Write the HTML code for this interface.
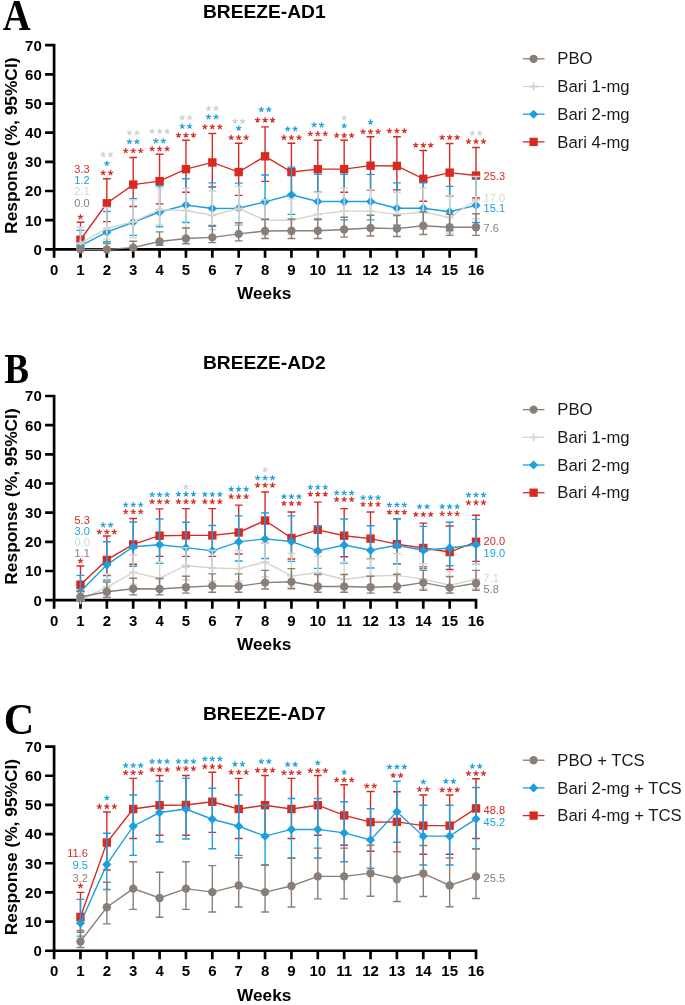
<!DOCTYPE html>
<html><head><meta charset="utf-8"><style>
html,body{margin:0;padding:0;background:#fff;width:685px;height:1005px;overflow:hidden}
svg{display:block;will-change:transform}
.tk{font-family:"Liberation Sans",sans-serif;font-weight:bold;font-size:15px;fill:#000}
.lg{font-family:"Liberation Sans",sans-serif;font-size:16.7px;fill:#1a1a1a}
.nl{font-family:"Liberation Sans",sans-serif;font-size:11px}
text{font-family:"Liberation Sans",sans-serif}
.let{font-family:"Liberation Serif",serif;font-weight:bold;font-size:43.5px;fill:#000}
</style></head><body>
<svg width="685" height="1005" viewBox="0 0 685 1005">
<rect width="685" height="1005" fill="#fff"/>
<text transform="translate(2.8,30.3) scale(0.89,1)" class="let" style="font-size:43.5px">A</text>
<text x="264.3" y="18.3" text-anchor="middle" font-family="Liberation Sans" font-weight="bold" font-size="19.2">BREEZE-AD1</text>
<path d="M54.1 43.85V257.85M45.1 249.35H477.37M45.1 249.35H54.1M45.1 220.19H54.1M45.1 191.02H54.1M45.1 161.86H54.1M45.1 132.69H54.1M45.1 103.53H54.1M45.1 74.37H54.1M45.1 45.2H54.1M80.47 249.35V257.85M106.84 249.35V257.85M133.21 249.35V257.85M159.58 249.35V257.85M185.95 249.35V257.85M212.32 249.35V257.85M238.69 249.35V257.85M265.06 249.35V257.85M291.43 249.35V257.85M317.8 249.35V257.85M344.17 249.35V257.85M370.54 249.35V257.85M396.91 249.35V257.85M423.28 249.35V257.85M449.65 249.35V257.85M476.02 249.35V257.85" stroke="#000" stroke-width="2.7" fill="none"/>
<text x="41.8" y="254.75" text-anchor="end" class="tk">0</text>
<text x="41.8" y="225.59" text-anchor="end" class="tk">10</text>
<text x="41.8" y="196.42" text-anchor="end" class="tk">20</text>
<text x="41.8" y="167.26" text-anchor="end" class="tk">30</text>
<text x="41.8" y="138.09" text-anchor="end" class="tk">40</text>
<text x="41.8" y="108.93" text-anchor="end" class="tk">50</text>
<text x="41.8" y="79.77" text-anchor="end" class="tk">60</text>
<text x="41.8" y="50.6" text-anchor="end" class="tk">70</text>
<text x="54.1" y="274.95" text-anchor="middle" class="tk">0</text>
<text x="80.47" y="274.95" text-anchor="middle" class="tk">1</text>
<text x="106.84" y="274.95" text-anchor="middle" class="tk">2</text>
<text x="133.21" y="274.95" text-anchor="middle" class="tk">3</text>
<text x="159.58" y="274.95" text-anchor="middle" class="tk">4</text>
<text x="185.95" y="274.95" text-anchor="middle" class="tk">5</text>
<text x="212.32" y="274.95" text-anchor="middle" class="tk">6</text>
<text x="238.69" y="274.95" text-anchor="middle" class="tk">7</text>
<text x="265.06" y="274.95" text-anchor="middle" class="tk">8</text>
<text x="291.43" y="274.95" text-anchor="middle" class="tk">9</text>
<text x="317.8" y="274.95" text-anchor="middle" class="tk">10</text>
<text x="344.17" y="274.95" text-anchor="middle" class="tk">11</text>
<text x="370.54" y="274.95" text-anchor="middle" class="tk">12</text>
<text x="396.91" y="274.95" text-anchor="middle" class="tk">13</text>
<text x="423.28" y="274.95" text-anchor="middle" class="tk">14</text>
<text x="449.65" y="274.95" text-anchor="middle" class="tk">15</text>
<text x="476.02" y="274.95" text-anchor="middle" class="tk">16</text>
<text x="264.2" y="299.25" text-anchor="middle" font-family="Liberation Sans" font-weight="bold" font-size="17.2">Weeks</text>
<text transform="translate(17.2,145.7) rotate(-90)" text-anchor="middle" font-family="Liberation Sans" font-weight="bold" font-size="17.35">Response (%, 95%CI)</text>
<polyline points="80.47,239.73 106.84,203.27 133.21,184.61 159.58,181.11 185.95,169.15 212.32,162.44 238.69,172.07 265.06,156.32 291.43,172.07 317.8,169.15 344.17,169.15 370.54,165.65 396.91,165.94 423.28,178.77 449.65,172.65 476.02,175.57" fill="none" stroke="#d62a22" stroke-width="1.4"/>
<path d="M80.47 222.23V248.48M76.57 222.23H84.37M76.57 248.48H84.37M106.84 178.77V221.64M102.94 178.77H110.74M102.94 221.64H110.74M133.21 157.48V206.48M129.31 157.48H137.11M129.31 206.48H137.11M159.58 154.28V203.85M155.68 154.28H163.48M155.68 203.85H163.48M185.95 140.28V192.19M182.05 140.28H189.85M182.05 192.19H189.85M212.32 133.57V186.94M208.42 133.57H216.22M208.42 186.94H216.22M238.69 143.19V195.4M234.79 143.19H242.59M234.79 195.4H242.59M265.06 126.86V181.4M261.16 126.86H268.96M261.16 181.4H268.96M291.43 143.19V195.4M287.53 143.19H295.33M287.53 195.4H295.33M317.8 140.28V192.19M313.9 140.28H321.7M313.9 192.19H321.7M344.17 140.28V192.19M340.27 140.28H348.07M340.27 192.19H348.07M370.54 136.78V190.15M366.64 136.78H374.44M366.64 190.15H374.44M396.91 136.78V189.86M393.01 136.78H400.81M393.01 189.86H400.81M423.28 150.48V201.23M419.38 150.48H427.18M419.38 201.23H427.18M449.65 143.48V195.69M445.75 143.48H453.55M445.75 195.69H453.55M476.02 147.57V198.02M472.12 147.57H479.92M472.12 198.02H479.92" stroke="#d62a22" stroke-width="1.4" fill="none"/>
<rect x="76.27" y="235.53" width="8.4" height="8.4" fill="#d62a22"/>
<rect x="102.64" y="199.07" width="8.4" height="8.4" fill="#d62a22"/>
<rect x="129.01" y="180.41" width="8.4" height="8.4" fill="#d62a22"/>
<rect x="155.38" y="176.91" width="8.4" height="8.4" fill="#d62a22"/>
<rect x="181.75" y="164.95" width="8.4" height="8.4" fill="#d62a22"/>
<rect x="208.12" y="158.24" width="8.4" height="8.4" fill="#d62a22"/>
<rect x="234.49" y="167.87" width="8.4" height="8.4" fill="#d62a22"/>
<rect x="260.86" y="152.12" width="8.4" height="8.4" fill="#d62a22"/>
<rect x="287.23" y="167.87" width="8.4" height="8.4" fill="#d62a22"/>
<rect x="313.6" y="164.95" width="8.4" height="8.4" fill="#d62a22"/>
<rect x="339.97" y="164.95" width="8.4" height="8.4" fill="#d62a22"/>
<rect x="366.34" y="161.45" width="8.4" height="8.4" fill="#d62a22"/>
<rect x="392.71" y="161.74" width="8.4" height="8.4" fill="#d62a22"/>
<rect x="419.08" y="174.57" width="8.4" height="8.4" fill="#d62a22"/>
<rect x="445.45" y="168.45" width="8.4" height="8.4" fill="#d62a22"/>
<rect x="471.82" y="171.37" width="8.4" height="8.4" fill="#d62a22"/>
<polyline points="80.47,245.85 106.84,232.14 133.21,222.23 159.58,212.02 185.95,205.02 212.32,208.52 238.69,208.23 265.06,201.81 291.43,194.81 317.8,201.52 344.17,201.52 370.54,201.52 396.91,208.23 423.28,208.23 449.65,211.73 476.02,205.31" fill="none" stroke="#1c9fdf" stroke-width="1.4"/>
<path d="M80.47 230.39V249.35M76.57 230.39H84.37M76.57 249.35H84.37M106.84 211.44V241.77M102.94 211.44H110.74M102.94 241.77H110.74M133.21 198.6V235.35M129.31 198.6H137.11M129.31 235.35H137.11M159.58 185.77V226.89M155.68 185.77H163.48M155.68 226.89H163.48M185.95 178.77V222.52M182.05 178.77H189.85M182.05 222.52H189.85M212.32 182.86V225.44M208.42 182.86H216.22M208.42 225.44H216.22M238.69 183.15V224.85M234.79 183.15H242.59M234.79 224.85H242.59M265.06 174.98V219.31M261.16 174.98H268.96M261.16 219.31H268.96M291.43 167.11V214.35M287.53 167.11H295.33M287.53 214.35H295.33M317.8 174.4V219.89M313.9 174.4H321.7M313.9 219.89H321.7M344.17 174.4V219.89M340.27 174.4H348.07M340.27 219.89H348.07M370.54 174.4V219.89M366.64 174.4H374.44M366.64 219.89H374.44M396.91 182.86V225.14M393.01 182.86H400.81M393.01 225.14H400.81M423.28 182.86V225.14M419.38 182.86H427.18M419.38 225.14H427.18M449.65 186.36V230.69M445.75 186.36H453.55M445.75 230.69H453.55M476.02 179.36V222.52M472.12 179.36H479.92M472.12 222.52H479.92" stroke="#1c9fdf" stroke-width="1.4" fill="none"/>
<path d="M80.47 241.23L85.09 245.85L80.47 250.47L75.85 245.85Z" fill="#1c9fdf"/>
<path d="M106.84 227.52L111.46 232.14L106.84 236.76L102.22 232.14Z" fill="#1c9fdf"/>
<path d="M133.21 217.61L137.83 222.23L133.21 226.85L128.59 222.23Z" fill="#1c9fdf"/>
<path d="M159.58 207.4L164.2 212.02L159.58 216.64L154.96 212.02Z" fill="#1c9fdf"/>
<path d="M185.95 200.4L190.57 205.02L185.95 209.64L181.33 205.02Z" fill="#1c9fdf"/>
<path d="M212.32 203.9L216.94 208.52L212.32 213.14L207.7 208.52Z" fill="#1c9fdf"/>
<path d="M238.69 203.61L243.31 208.23L238.69 212.85L234.07 208.23Z" fill="#1c9fdf"/>
<path d="M265.06 197.19L269.68 201.81L265.06 206.43L260.44 201.81Z" fill="#1c9fdf"/>
<path d="M291.43 190.19L296.05 194.81L291.43 199.43L286.81 194.81Z" fill="#1c9fdf"/>
<path d="M317.8 196.9L322.42 201.52L317.8 206.14L313.18 201.52Z" fill="#1c9fdf"/>
<path d="M344.17 196.9L348.79 201.52L344.17 206.14L339.55 201.52Z" fill="#1c9fdf"/>
<path d="M370.54 196.9L375.16 201.52L370.54 206.14L365.92 201.52Z" fill="#1c9fdf"/>
<path d="M396.91 203.61L401.53 208.23L396.91 212.85L392.29 208.23Z" fill="#1c9fdf"/>
<path d="M423.28 203.61L427.9 208.23L423.28 212.85L418.66 208.23Z" fill="#1c9fdf"/>
<path d="M449.65 207.11L454.27 211.73L449.65 216.35L445.03 211.73Z" fill="#1c9fdf"/>
<path d="M476.02 200.69L480.64 205.31L476.02 209.93L471.4 205.31Z" fill="#1c9fdf"/>
<polyline points="80.47,243.23 106.84,228.35 133.21,221.94 159.58,209.69 185.95,210.56 212.32,215.23 238.69,208.52 265.06,220.19 291.43,220.19 317.8,214.35 344.17,211.15 370.54,211.15 396.91,214.35 423.28,212.02 449.65,217.56 476.02,199.77" fill="none" stroke="#d5d4cd" stroke-width="1.4"/>
<path d="M80.47 226.89V248.48M76.57 226.89H84.37M76.57 248.48H84.37M106.84 207.35V238.85M102.94 207.35H110.74M102.94 238.85H110.74M133.21 199.77V237.68M129.31 199.77H137.11M129.31 237.68H137.11M159.58 188.11V224.85M155.68 188.11H163.48M155.68 224.85H163.48M185.95 188.11V227.48M182.05 188.11H189.85M182.05 227.48H189.85M212.32 191.02V229.81M208.42 191.02H216.22M208.42 229.81H216.22M238.69 186.65V224.27M234.79 186.65H242.59M234.79 224.27H242.59M265.06 199.77V234.77M261.16 199.77H268.96M261.16 234.77H268.96M291.43 198.9V234.77M287.53 198.9H295.33M287.53 234.77H295.33M317.8 192.48V230.39M313.9 192.48H321.7M313.9 230.39H321.7M344.17 188.11V227.48M340.27 188.11H348.07M340.27 227.48H348.07M370.54 189.56V227.48M366.64 189.56H374.44M366.64 227.48H374.44M396.91 192.48V230.39M393.01 192.48H400.81M393.01 230.39H400.81M423.28 188.11V228.94M419.38 188.11H427.18M419.38 228.94H427.18M449.65 195.4V233.31M445.75 195.4H453.55M445.75 233.31H453.55M476.02 176.44V218.73M472.12 176.44H479.92M472.12 218.73H479.92" stroke="#d5d4cd" stroke-width="1.4" fill="none"/>
<path d="M76.27 243.23H84.67M80.47 239.03V247.43" stroke="#d5d4cd" stroke-width="1.8" fill="none"/>
<path d="M102.64 228.35H111.04M106.84 224.15V232.55" stroke="#d5d4cd" stroke-width="1.8" fill="none"/>
<path d="M129.01 221.94H137.41M133.21 217.74V226.14" stroke="#d5d4cd" stroke-width="1.8" fill="none"/>
<path d="M155.38 209.69H163.78M159.58 205.49V213.89" stroke="#d5d4cd" stroke-width="1.8" fill="none"/>
<path d="M181.75 210.56H190.15M185.95 206.36V214.76" stroke="#d5d4cd" stroke-width="1.8" fill="none"/>
<path d="M208.12 215.23H216.52M212.32 211.03V219.43" stroke="#d5d4cd" stroke-width="1.8" fill="none"/>
<path d="M234.49 208.52H242.89M238.69 204.32V212.72" stroke="#d5d4cd" stroke-width="1.8" fill="none"/>
<path d="M260.86 220.19H269.26M265.06 215.99V224.39" stroke="#d5d4cd" stroke-width="1.8" fill="none"/>
<path d="M287.23 220.19H295.63M291.43 215.99V224.39" stroke="#d5d4cd" stroke-width="1.8" fill="none"/>
<path d="M313.6 214.35H322M317.8 210.15V218.55" stroke="#d5d4cd" stroke-width="1.8" fill="none"/>
<path d="M339.97 211.15H348.37M344.17 206.95V215.35" stroke="#d5d4cd" stroke-width="1.8" fill="none"/>
<path d="M366.34 211.15H374.74M370.54 206.95V215.35" stroke="#d5d4cd" stroke-width="1.8" fill="none"/>
<path d="M392.71 214.35H401.11M396.91 210.15V218.55" stroke="#d5d4cd" stroke-width="1.8" fill="none"/>
<path d="M419.08 212.02H427.48M423.28 207.82V216.22" stroke="#d5d4cd" stroke-width="1.8" fill="none"/>
<path d="M445.45 217.56H453.85M449.65 213.36V221.76" stroke="#d5d4cd" stroke-width="1.8" fill="none"/>
<path d="M471.82 199.77H480.22M476.02 195.57V203.97" stroke="#d5d4cd" stroke-width="1.8" fill="none"/>
<polyline points="80.47,249.35 106.84,249.35 133.21,247.6 159.58,241.48 185.95,238.56 212.32,237.39 238.69,233.89 265.06,230.98 291.43,230.69 317.8,230.69 344.17,229.52 370.54,228.06 396.91,228.64 423.28,225.73 449.65,227.19 476.02,227.19" fill="none" stroke="#8a7e78" stroke-width="1.4"/>
<path d="M80.47 247.6V249.35M76.57 247.6H84.37M76.57 249.35H84.37M106.84 243.52V249.35M102.94 243.52H110.74M102.94 249.35H110.74M133.21 241.18V249.35M129.31 241.18H137.11M129.31 249.35H137.11M159.58 231.85V245.27M155.68 231.85H163.48M155.68 245.27H163.48M185.95 228.06V243.81M182.05 228.06H189.85M182.05 243.81H189.85M212.32 226.31V242.64M208.42 226.31H216.22M208.42 242.64H216.22M238.69 222.81V240.89M234.79 222.81H242.59M234.79 240.89H242.59M265.06 219.31V238.56M261.16 219.31H268.96M261.16 238.56H268.96M291.43 219.02V238.56M287.53 219.02H295.33M287.53 238.56H295.33M317.8 219.02V238.56M313.9 219.02H321.7M313.9 238.56H321.7M344.17 217.27V237.1M340.27 217.27H348.07M340.27 237.1H348.07M370.54 215.23V235.93M366.64 215.23H374.44M366.64 235.93H374.44M396.91 215.52V236.52M393.01 215.52H400.81M393.01 236.52H400.81M423.28 212.02V234.48M419.38 212.02H427.18M419.38 234.48H427.18M449.65 214.35V235.35M445.75 214.35H453.55M445.75 235.35H453.55M476.02 213.77V235.35M472.12 213.77H479.92M472.12 235.35H479.92" stroke="#8a7e78" stroke-width="1.4" fill="none"/>
<circle cx="80.47" cy="249.35" r="4.2" fill="#8a7e78"/>
<circle cx="106.84" cy="249.35" r="4.2" fill="#8a7e78"/>
<circle cx="133.21" cy="247.6" r="4.2" fill="#8a7e78"/>
<circle cx="159.58" cy="241.48" r="4.2" fill="#8a7e78"/>
<circle cx="185.95" cy="238.56" r="4.2" fill="#8a7e78"/>
<circle cx="212.32" cy="237.39" r="4.2" fill="#8a7e78"/>
<circle cx="238.69" cy="233.89" r="4.2" fill="#8a7e78"/>
<circle cx="265.06" cy="230.98" r="4.2" fill="#8a7e78"/>
<circle cx="291.43" cy="230.69" r="4.2" fill="#8a7e78"/>
<circle cx="317.8" cy="230.69" r="4.2" fill="#8a7e78"/>
<circle cx="344.17" cy="229.52" r="4.2" fill="#8a7e78"/>
<circle cx="370.54" cy="228.06" r="4.2" fill="#8a7e78"/>
<circle cx="396.91" cy="228.64" r="4.2" fill="#8a7e78"/>
<circle cx="423.28" cy="225.73" r="4.2" fill="#8a7e78"/>
<circle cx="449.65" cy="227.19" r="4.2" fill="#8a7e78"/>
<circle cx="476.02" cy="227.19" r="4.2" fill="#8a7e78"/>
<path d="M80.47 217L80.47 214.25M80.47 217L83.09 216.15M80.47 217L82.09 219.22M80.47 217L78.85 219.22M80.47 217L77.85 216.15" stroke="#d62a22" stroke-width="1.2" stroke-linecap="butt" fill="none"/>
<path d="M103.09 172.9L103.09 170.15M103.09 172.9L105.71 172.05M103.09 172.9L104.71 175.12M103.09 172.9L101.47 175.12M103.09 172.9L100.47 172.05" stroke="#d62a22" stroke-width="1.2" stroke-linecap="butt" fill="none"/>
<path d="M110.59 172.9L110.59 170.15M110.59 172.9L113.21 172.05M110.59 172.9L112.21 175.12M110.59 172.9L108.97 175.12M110.59 172.9L107.97 172.05" stroke="#d62a22" stroke-width="1.2" stroke-linecap="butt" fill="none"/>
<path d="M106.84 163.5L106.84 160.75M106.84 163.5L109.46 162.65M106.84 163.5L108.46 165.72M106.84 163.5L105.22 165.72M106.84 163.5L104.22 162.65" stroke="#1c9fdf" stroke-width="1.2" stroke-linecap="butt" fill="none"/>
<path d="M103.09 154.6L103.09 151.85M103.09 154.6L105.71 153.75M103.09 154.6L104.71 156.82M103.09 154.6L101.47 156.82M103.09 154.6L100.47 153.75" stroke="#cfcfcc" stroke-width="1.2" stroke-linecap="butt" fill="none"/>
<path d="M110.59 154.6L110.59 151.85M110.59 154.6L113.21 153.75M110.59 154.6L112.21 156.82M110.59 154.6L108.97 156.82M110.59 154.6L107.97 153.75" stroke="#cfcfcc" stroke-width="1.2" stroke-linecap="butt" fill="none"/>
<path d="M125.71 150.8L125.71 148.05M125.71 150.8L128.33 149.95M125.71 150.8L127.33 153.02M125.71 150.8L124.09 153.02M125.71 150.8L123.09 149.95" stroke="#d62a22" stroke-width="1.2" stroke-linecap="butt" fill="none"/>
<path d="M133.21 150.8L133.21 148.05M133.21 150.8L135.83 149.95M133.21 150.8L134.83 153.02M133.21 150.8L131.59 153.02M133.21 150.8L130.59 149.95" stroke="#d62a22" stroke-width="1.2" stroke-linecap="butt" fill="none"/>
<path d="M140.71 150.8L140.71 148.05M140.71 150.8L143.33 149.95M140.71 150.8L142.33 153.02M140.71 150.8L139.09 153.02M140.71 150.8L138.09 149.95" stroke="#d62a22" stroke-width="1.2" stroke-linecap="butt" fill="none"/>
<path d="M129.46 141.7L129.46 138.95M129.46 141.7L132.08 140.85M129.46 141.7L131.08 143.92M129.46 141.7L127.84 143.92M129.46 141.7L126.84 140.85" stroke="#1c9fdf" stroke-width="1.2" stroke-linecap="butt" fill="none"/>
<path d="M136.96 141.7L136.96 138.95M136.96 141.7L139.58 140.85M136.96 141.7L138.58 143.92M136.96 141.7L135.34 143.92M136.96 141.7L134.34 140.85" stroke="#1c9fdf" stroke-width="1.2" stroke-linecap="butt" fill="none"/>
<path d="M129.46 132.9L129.46 130.15M129.46 132.9L132.08 132.05M129.46 132.9L131.08 135.12M129.46 132.9L127.84 135.12M129.46 132.9L126.84 132.05" stroke="#cfcfcc" stroke-width="1.2" stroke-linecap="butt" fill="none"/>
<path d="M136.96 132.9L136.96 130.15M136.96 132.9L139.58 132.05M136.96 132.9L138.58 135.12M136.96 132.9L135.34 135.12M136.96 132.9L134.34 132.05" stroke="#cfcfcc" stroke-width="1.2" stroke-linecap="butt" fill="none"/>
<path d="M152.08 148.9L152.08 146.15M152.08 148.9L154.7 148.05M152.08 148.9L153.7 151.12M152.08 148.9L150.46 151.12M152.08 148.9L149.46 148.05" stroke="#d62a22" stroke-width="1.2" stroke-linecap="butt" fill="none"/>
<path d="M159.58 148.9L159.58 146.15M159.58 148.9L162.2 148.05M159.58 148.9L161.2 151.12M159.58 148.9L157.96 151.12M159.58 148.9L156.96 148.05" stroke="#d62a22" stroke-width="1.2" stroke-linecap="butt" fill="none"/>
<path d="M167.08 148.9L167.08 146.15M167.08 148.9L169.7 148.05M167.08 148.9L168.7 151.12M167.08 148.9L165.46 151.12M167.08 148.9L164.46 148.05" stroke="#d62a22" stroke-width="1.2" stroke-linecap="butt" fill="none"/>
<path d="M155.83 141L155.83 138.25M155.83 141L158.45 140.15M155.83 141L157.45 143.22M155.83 141L154.21 143.22M155.83 141L153.21 140.15" stroke="#1c9fdf" stroke-width="1.2" stroke-linecap="butt" fill="none"/>
<path d="M163.33 141L163.33 138.25M163.33 141L165.95 140.15M163.33 141L164.95 143.22M163.33 141L161.71 143.22M163.33 141L160.71 140.15" stroke="#1c9fdf" stroke-width="1.2" stroke-linecap="butt" fill="none"/>
<path d="M152.08 131.4L152.08 128.65M152.08 131.4L154.7 130.55M152.08 131.4L153.7 133.62M152.08 131.4L150.46 133.62M152.08 131.4L149.46 130.55" stroke="#cfcfcc" stroke-width="1.2" stroke-linecap="butt" fill="none"/>
<path d="M159.58 131.4L159.58 128.65M159.58 131.4L162.2 130.55M159.58 131.4L161.2 133.62M159.58 131.4L157.96 133.62M159.58 131.4L156.96 130.55" stroke="#cfcfcc" stroke-width="1.2" stroke-linecap="butt" fill="none"/>
<path d="M167.08 131.4L167.08 128.65M167.08 131.4L169.7 130.55M167.08 131.4L168.7 133.62M167.08 131.4L165.46 133.62M167.08 131.4L164.46 130.55" stroke="#cfcfcc" stroke-width="1.2" stroke-linecap="butt" fill="none"/>
<path d="M178.45 135.2L178.45 132.45M178.45 135.2L181.07 134.35M178.45 135.2L180.07 137.42M178.45 135.2L176.83 137.42M178.45 135.2L175.83 134.35" stroke="#d62a22" stroke-width="1.2" stroke-linecap="butt" fill="none"/>
<path d="M185.95 135.2L185.95 132.45M185.95 135.2L188.57 134.35M185.95 135.2L187.57 137.42M185.95 135.2L184.33 137.42M185.95 135.2L183.33 134.35" stroke="#d62a22" stroke-width="1.2" stroke-linecap="butt" fill="none"/>
<path d="M193.45 135.2L193.45 132.45M193.45 135.2L196.07 134.35M193.45 135.2L195.07 137.42M193.45 135.2L191.83 137.42M193.45 135.2L190.83 134.35" stroke="#d62a22" stroke-width="1.2" stroke-linecap="butt" fill="none"/>
<path d="M182.2 126.3L182.2 123.55M182.2 126.3L184.82 125.45M182.2 126.3L183.82 128.52M182.2 126.3L180.58 128.52M182.2 126.3L179.58 125.45" stroke="#1c9fdf" stroke-width="1.2" stroke-linecap="butt" fill="none"/>
<path d="M189.7 126.3L189.7 123.55M189.7 126.3L192.32 125.45M189.7 126.3L191.32 128.52M189.7 126.3L188.08 128.52M189.7 126.3L187.08 125.45" stroke="#1c9fdf" stroke-width="1.2" stroke-linecap="butt" fill="none"/>
<path d="M182.2 117.7L182.2 114.95M182.2 117.7L184.82 116.85M182.2 117.7L183.82 119.92M182.2 117.7L180.58 119.92M182.2 117.7L179.58 116.85" stroke="#cfcfcc" stroke-width="1.2" stroke-linecap="butt" fill="none"/>
<path d="M189.7 117.7L189.7 114.95M189.7 117.7L192.32 116.85M189.7 117.7L191.32 119.92M189.7 117.7L188.08 119.92M189.7 117.7L187.08 116.85" stroke="#cfcfcc" stroke-width="1.2" stroke-linecap="butt" fill="none"/>
<path d="M204.82 126.9L204.82 124.15M204.82 126.9L207.44 126.05M204.82 126.9L206.44 129.12M204.82 126.9L203.2 129.12M204.82 126.9L202.2 126.05" stroke="#d62a22" stroke-width="1.2" stroke-linecap="butt" fill="none"/>
<path d="M212.32 126.9L212.32 124.15M212.32 126.9L214.94 126.05M212.32 126.9L213.94 129.12M212.32 126.9L210.7 129.12M212.32 126.9L209.7 126.05" stroke="#d62a22" stroke-width="1.2" stroke-linecap="butt" fill="none"/>
<path d="M219.82 126.9L219.82 124.15M219.82 126.9L222.44 126.05M219.82 126.9L221.44 129.12M219.82 126.9L218.2 129.12M219.82 126.9L217.2 126.05" stroke="#d62a22" stroke-width="1.2" stroke-linecap="butt" fill="none"/>
<path d="M208.57 117L208.57 114.25M208.57 117L211.19 116.15M208.57 117L210.19 119.22M208.57 117L206.95 119.22M208.57 117L205.95 116.15" stroke="#1c9fdf" stroke-width="1.2" stroke-linecap="butt" fill="none"/>
<path d="M216.07 117L216.07 114.25M216.07 117L218.69 116.15M216.07 117L217.69 119.22M216.07 117L214.45 119.22M216.07 117L213.45 116.15" stroke="#1c9fdf" stroke-width="1.2" stroke-linecap="butt" fill="none"/>
<path d="M208.57 108.4L208.57 105.65M208.57 108.4L211.19 107.55M208.57 108.4L210.19 110.62M208.57 108.4L206.95 110.62M208.57 108.4L205.95 107.55" stroke="#cfcfcc" stroke-width="1.2" stroke-linecap="butt" fill="none"/>
<path d="M216.07 108.4L216.07 105.65M216.07 108.4L218.69 107.55M216.07 108.4L217.69 110.62M216.07 108.4L214.45 110.62M216.07 108.4L213.45 107.55" stroke="#cfcfcc" stroke-width="1.2" stroke-linecap="butt" fill="none"/>
<path d="M231.19 137.6L231.19 134.85M231.19 137.6L233.81 136.75M231.19 137.6L232.81 139.82M231.19 137.6L229.57 139.82M231.19 137.6L228.57 136.75" stroke="#d62a22" stroke-width="1.2" stroke-linecap="butt" fill="none"/>
<path d="M238.69 137.6L238.69 134.85M238.69 137.6L241.31 136.75M238.69 137.6L240.31 139.82M238.69 137.6L237.07 139.82M238.69 137.6L236.07 136.75" stroke="#d62a22" stroke-width="1.2" stroke-linecap="butt" fill="none"/>
<path d="M246.19 137.6L246.19 134.85M246.19 137.6L248.81 136.75M246.19 137.6L247.81 139.82M246.19 137.6L244.57 139.82M246.19 137.6L243.57 136.75" stroke="#d62a22" stroke-width="1.2" stroke-linecap="butt" fill="none"/>
<path d="M238.69 128.2L238.69 125.45M238.69 128.2L241.31 127.35M238.69 128.2L240.31 130.42M238.69 128.2L237.07 130.42M238.69 128.2L236.07 127.35" stroke="#1c9fdf" stroke-width="1.2" stroke-linecap="butt" fill="none"/>
<path d="M234.94 121.2L234.94 118.45M234.94 121.2L237.56 120.35M234.94 121.2L236.56 123.42M234.94 121.2L233.32 123.42M234.94 121.2L232.32 120.35" stroke="#cfcfcc" stroke-width="1.2" stroke-linecap="butt" fill="none"/>
<path d="M242.44 121.2L242.44 118.45M242.44 121.2L245.06 120.35M242.44 121.2L244.06 123.42M242.44 121.2L240.82 123.42M242.44 121.2L239.82 120.35" stroke="#cfcfcc" stroke-width="1.2" stroke-linecap="butt" fill="none"/>
<path d="M257.56 120.1L257.56 117.35M257.56 120.1L260.18 119.25M257.56 120.1L259.18 122.32M257.56 120.1L255.94 122.32M257.56 120.1L254.94 119.25" stroke="#d62a22" stroke-width="1.2" stroke-linecap="butt" fill="none"/>
<path d="M265.06 120.1L265.06 117.35M265.06 120.1L267.68 119.25M265.06 120.1L266.68 122.32M265.06 120.1L263.44 122.32M265.06 120.1L262.44 119.25" stroke="#d62a22" stroke-width="1.2" stroke-linecap="butt" fill="none"/>
<path d="M272.56 120.1L272.56 117.35M272.56 120.1L275.18 119.25M272.56 120.1L274.18 122.32M272.56 120.1L270.94 122.32M272.56 120.1L269.94 119.25" stroke="#d62a22" stroke-width="1.2" stroke-linecap="butt" fill="none"/>
<path d="M261.31 109.6L261.31 106.85M261.31 109.6L263.93 108.75M261.31 109.6L262.93 111.82M261.31 109.6L259.69 111.82M261.31 109.6L258.69 108.75" stroke="#1c9fdf" stroke-width="1.2" stroke-linecap="butt" fill="none"/>
<path d="M268.81 109.6L268.81 106.85M268.81 109.6L271.43 108.75M268.81 109.6L270.43 111.82M268.81 109.6L267.19 111.82M268.81 109.6L266.19 108.75" stroke="#1c9fdf" stroke-width="1.2" stroke-linecap="butt" fill="none"/>
<path d="M283.93 137.6L283.93 134.85M283.93 137.6L286.55 136.75M283.93 137.6L285.55 139.82M283.93 137.6L282.31 139.82M283.93 137.6L281.31 136.75" stroke="#d62a22" stroke-width="1.2" stroke-linecap="butt" fill="none"/>
<path d="M291.43 137.6L291.43 134.85M291.43 137.6L294.05 136.75M291.43 137.6L293.05 139.82M291.43 137.6L289.81 139.82M291.43 137.6L288.81 136.75" stroke="#d62a22" stroke-width="1.2" stroke-linecap="butt" fill="none"/>
<path d="M298.93 137.6L298.93 134.85M298.93 137.6L301.55 136.75M298.93 137.6L300.55 139.82M298.93 137.6L297.31 139.82M298.93 137.6L296.31 136.75" stroke="#d62a22" stroke-width="1.2" stroke-linecap="butt" fill="none"/>
<path d="M287.68 128.9L287.68 126.15M287.68 128.9L290.3 128.05M287.68 128.9L289.3 131.12M287.68 128.9L286.06 131.12M287.68 128.9L285.06 128.05" stroke="#1c9fdf" stroke-width="1.2" stroke-linecap="butt" fill="none"/>
<path d="M295.18 128.9L295.18 126.15M295.18 128.9L297.8 128.05M295.18 128.9L296.8 131.12M295.18 128.9L293.56 131.12M295.18 128.9L292.56 128.05" stroke="#1c9fdf" stroke-width="1.2" stroke-linecap="butt" fill="none"/>
<path d="M310.3 133.8L310.3 131.05M310.3 133.8L312.92 132.95M310.3 133.8L311.92 136.02M310.3 133.8L308.68 136.02M310.3 133.8L307.68 132.95" stroke="#d62a22" stroke-width="1.2" stroke-linecap="butt" fill="none"/>
<path d="M317.8 133.8L317.8 131.05M317.8 133.8L320.42 132.95M317.8 133.8L319.42 136.02M317.8 133.8L316.18 136.02M317.8 133.8L315.18 132.95" stroke="#d62a22" stroke-width="1.2" stroke-linecap="butt" fill="none"/>
<path d="M325.3 133.8L325.3 131.05M325.3 133.8L327.92 132.95M325.3 133.8L326.92 136.02M325.3 133.8L323.68 136.02M325.3 133.8L322.68 132.95" stroke="#d62a22" stroke-width="1.2" stroke-linecap="butt" fill="none"/>
<path d="M314.05 125L314.05 122.25M314.05 125L316.67 124.15M314.05 125L315.67 127.22M314.05 125L312.43 127.22M314.05 125L311.43 124.15" stroke="#1c9fdf" stroke-width="1.2" stroke-linecap="butt" fill="none"/>
<path d="M321.55 125L321.55 122.25M321.55 125L324.17 124.15M321.55 125L323.17 127.22M321.55 125L319.93 127.22M321.55 125L318.93 124.15" stroke="#1c9fdf" stroke-width="1.2" stroke-linecap="butt" fill="none"/>
<path d="M336.67 135.5L336.67 132.75M336.67 135.5L339.29 134.65M336.67 135.5L338.29 137.72M336.67 135.5L335.05 137.72M336.67 135.5L334.05 134.65" stroke="#d62a22" stroke-width="1.2" stroke-linecap="butt" fill="none"/>
<path d="M344.17 135.5L344.17 132.75M344.17 135.5L346.79 134.65M344.17 135.5L345.79 137.72M344.17 135.5L342.55 137.72M344.17 135.5L341.55 134.65" stroke="#d62a22" stroke-width="1.2" stroke-linecap="butt" fill="none"/>
<path d="M351.67 135.5L351.67 132.75M351.67 135.5L354.29 134.65M351.67 135.5L353.29 137.72M351.67 135.5L350.05 137.72M351.67 135.5L349.05 134.65" stroke="#d62a22" stroke-width="1.2" stroke-linecap="butt" fill="none"/>
<path d="M344.17 125.9L344.17 123.15M344.17 125.9L346.79 125.05M344.17 125.9L345.79 128.12M344.17 125.9L342.55 128.12M344.17 125.9L341.55 125.05" stroke="#1c9fdf" stroke-width="1.2" stroke-linecap="butt" fill="none"/>
<path d="M344.17 118L344.17 115.25M344.17 118L346.79 117.15M344.17 118L345.79 120.22M344.17 118L342.55 120.22M344.17 118L341.55 117.15" stroke="#cfcfcc" stroke-width="1.2" stroke-linecap="butt" fill="none"/>
<path d="M363.04 131.7L363.04 128.95M363.04 131.7L365.66 130.85M363.04 131.7L364.66 133.92M363.04 131.7L361.42 133.92M363.04 131.7L360.42 130.85" stroke="#d62a22" stroke-width="1.2" stroke-linecap="butt" fill="none"/>
<path d="M370.54 131.7L370.54 128.95M370.54 131.7L373.16 130.85M370.54 131.7L372.16 133.92M370.54 131.7L368.92 133.92M370.54 131.7L367.92 130.85" stroke="#d62a22" stroke-width="1.2" stroke-linecap="butt" fill="none"/>
<path d="M378.04 131.7L378.04 128.95M378.04 131.7L380.66 130.85M378.04 131.7L379.66 133.92M378.04 131.7L376.42 133.92M378.04 131.7L375.42 130.85" stroke="#d62a22" stroke-width="1.2" stroke-linecap="butt" fill="none"/>
<path d="M370.54 122.1L370.54 119.35M370.54 122.1L373.16 121.25M370.54 122.1L372.16 124.32M370.54 122.1L368.92 124.32M370.54 122.1L367.92 121.25" stroke="#1c9fdf" stroke-width="1.2" stroke-linecap="butt" fill="none"/>
<path d="M389.41 130.9L389.41 128.15M389.41 130.9L392.03 130.05M389.41 130.9L391.03 133.12M389.41 130.9L387.79 133.12M389.41 130.9L386.79 130.05" stroke="#d62a22" stroke-width="1.2" stroke-linecap="butt" fill="none"/>
<path d="M396.91 130.9L396.91 128.15M396.91 130.9L399.53 130.05M396.91 130.9L398.53 133.12M396.91 130.9L395.29 133.12M396.91 130.9L394.29 130.05" stroke="#d62a22" stroke-width="1.2" stroke-linecap="butt" fill="none"/>
<path d="M404.41 130.9L404.41 128.15M404.41 130.9L407.03 130.05M404.41 130.9L406.03 133.12M404.41 130.9L402.79 133.12M404.41 130.9L401.79 130.05" stroke="#d62a22" stroke-width="1.2" stroke-linecap="butt" fill="none"/>
<path d="M415.78 145.2L415.78 142.45M415.78 145.2L418.4 144.35M415.78 145.2L417.4 147.42M415.78 145.2L414.16 147.42M415.78 145.2L413.16 144.35" stroke="#d62a22" stroke-width="1.2" stroke-linecap="butt" fill="none"/>
<path d="M423.28 145.2L423.28 142.45M423.28 145.2L425.9 144.35M423.28 145.2L424.9 147.42M423.28 145.2L421.66 147.42M423.28 145.2L420.66 144.35" stroke="#d62a22" stroke-width="1.2" stroke-linecap="butt" fill="none"/>
<path d="M430.78 145.2L430.78 142.45M430.78 145.2L433.4 144.35M430.78 145.2L432.4 147.42M430.78 145.2L429.16 147.42M430.78 145.2L428.16 144.35" stroke="#d62a22" stroke-width="1.2" stroke-linecap="butt" fill="none"/>
<path d="M442.15 137.4L442.15 134.65M442.15 137.4L444.77 136.55M442.15 137.4L443.77 139.62M442.15 137.4L440.53 139.62M442.15 137.4L439.53 136.55" stroke="#d62a22" stroke-width="1.2" stroke-linecap="butt" fill="none"/>
<path d="M449.65 137.4L449.65 134.65M449.65 137.4L452.27 136.55M449.65 137.4L451.27 139.62M449.65 137.4L448.03 139.62M449.65 137.4L447.03 136.55" stroke="#d62a22" stroke-width="1.2" stroke-linecap="butt" fill="none"/>
<path d="M457.15 137.4L457.15 134.65M457.15 137.4L459.77 136.55M457.15 137.4L458.77 139.62M457.15 137.4L455.53 139.62M457.15 137.4L454.53 136.55" stroke="#d62a22" stroke-width="1.2" stroke-linecap="butt" fill="none"/>
<path d="M468.52 141.5L468.52 138.75M468.52 141.5L471.14 140.65M468.52 141.5L470.14 143.72M468.52 141.5L466.9 143.72M468.52 141.5L465.9 140.65" stroke="#d62a22" stroke-width="1.2" stroke-linecap="butt" fill="none"/>
<path d="M476.02 141.5L476.02 138.75M476.02 141.5L478.64 140.65M476.02 141.5L477.64 143.72M476.02 141.5L474.4 143.72M476.02 141.5L473.4 140.65" stroke="#d62a22" stroke-width="1.2" stroke-linecap="butt" fill="none"/>
<path d="M483.52 141.5L483.52 138.75M483.52 141.5L486.14 140.65M483.52 141.5L485.14 143.72M483.52 141.5L481.9 143.72M483.52 141.5L480.9 140.65" stroke="#d62a22" stroke-width="1.2" stroke-linecap="butt" fill="none"/>
<path d="M472.27 133.3L472.27 130.55M472.27 133.3L474.89 132.45M472.27 133.3L473.89 135.52M472.27 133.3L470.65 135.52M472.27 133.3L469.65 132.45" stroke="#cfcfcc" stroke-width="1.2" stroke-linecap="butt" fill="none"/>
<path d="M479.77 133.3L479.77 130.55M479.77 133.3L482.39 132.45M479.77 133.3L481.39 135.52M479.77 133.3L478.15 135.52M479.77 133.3L477.15 132.45" stroke="#cfcfcc" stroke-width="1.2" stroke-linecap="butt" fill="none"/>
<text x="89.6" y="173" text-anchor="end" class="nl" fill="#d62a22">3.3</text>
<text x="89.6" y="183.7" text-anchor="end" class="nl" fill="#1c9fdf">1.2</text>
<text x="89.6" y="194.7" text-anchor="end" class="nl" fill="#d5d4cd">2.1</text>
<text x="89.6" y="206.9" text-anchor="end" class="nl" fill="#8a7e78">0.0</text>
<text x="483.6" y="179.7" class="nl" fill="#d62a22">25.3</text>
<text x="483.6" y="201.6" class="nl" fill="#d5d4cd">17.0</text>
<text x="483.6" y="212.4" class="nl" fill="#1c9fdf">15.1</text>
<text x="483.6" y="231.6" class="nl" fill="#8a7e78">7.6</text>
<path d="M522.8 58.8H544.5" stroke="#8a7e78" stroke-width="1.3"/>
<circle cx="533.6" cy="58.8" r="4.15" fill="#8a7e78"/>
<text x="557.3" y="64.4" class="lg">PBO</text>
<path d="M522.8 86.5H544.5" stroke="#d5d4cd" stroke-width="1.3"/>
<path d="M529.45 86.5H537.75M533.6 82.35V90.65" stroke="#d5d4cd" stroke-width="1.8" fill="none"/>
<text x="557.3" y="92.1" class="lg">Bari 1-mg</text>
<path d="M522.8 114.2H544.5" stroke="#1c9fdf" stroke-width="1.3"/>
<path d="M533.6 109.63L538.17 114.2L533.6 118.76L529.03 114.2Z" fill="#1c9fdf"/>
<text x="557.3" y="119.8" class="lg">Bari 2-mg</text>
<path d="M522.8 141.9H544.5" stroke="#d62a22" stroke-width="1.3"/>
<rect x="529.45" y="137.75" width="8.3" height="8.3" fill="#d62a22"/>
<text x="557.3" y="147.5" class="lg">Bari 4-mg</text>
<text transform="translate(4.3,382.9) scale(0.9,1)" class="let" style="font-size:41.3px">B</text>
<text x="264.3" y="369.1" text-anchor="middle" font-family="Liberation Sans" font-weight="bold" font-size="19.2">BREEZE-AD2</text>
<path d="M54.1 394.65V608.65M45.1 600.15H477.37M45.1 600.15H54.1M45.1 570.99H54.1M45.1 541.82H54.1M45.1 512.66H54.1M45.1 483.49H54.1M45.1 454.33H54.1M45.1 425.17H54.1M45.1 396H54.1M80.47 600.15V608.65M106.84 600.15V608.65M133.21 600.15V608.65M159.58 600.15V608.65M185.95 600.15V608.65M212.32 600.15V608.65M238.69 600.15V608.65M265.06 600.15V608.65M291.43 600.15V608.65M317.8 600.15V608.65M344.17 600.15V608.65M370.54 600.15V608.65M396.91 600.15V608.65M423.28 600.15V608.65M449.65 600.15V608.65M476.02 600.15V608.65" stroke="#000" stroke-width="2.7" fill="none"/>
<text x="41.8" y="605.55" text-anchor="end" class="tk">0</text>
<text x="41.8" y="576.39" text-anchor="end" class="tk">10</text>
<text x="41.8" y="547.22" text-anchor="end" class="tk">20</text>
<text x="41.8" y="518.06" text-anchor="end" class="tk">30</text>
<text x="41.8" y="488.89" text-anchor="end" class="tk">40</text>
<text x="41.8" y="459.73" text-anchor="end" class="tk">50</text>
<text x="41.8" y="430.57" text-anchor="end" class="tk">60</text>
<text x="41.8" y="401.4" text-anchor="end" class="tk">70</text>
<text x="54.1" y="625.75" text-anchor="middle" class="tk">0</text>
<text x="80.47" y="625.75" text-anchor="middle" class="tk">1</text>
<text x="106.84" y="625.75" text-anchor="middle" class="tk">2</text>
<text x="133.21" y="625.75" text-anchor="middle" class="tk">3</text>
<text x="159.58" y="625.75" text-anchor="middle" class="tk">4</text>
<text x="185.95" y="625.75" text-anchor="middle" class="tk">5</text>
<text x="212.32" y="625.75" text-anchor="middle" class="tk">6</text>
<text x="238.69" y="625.75" text-anchor="middle" class="tk">7</text>
<text x="265.06" y="625.75" text-anchor="middle" class="tk">8</text>
<text x="291.43" y="625.75" text-anchor="middle" class="tk">9</text>
<text x="317.8" y="625.75" text-anchor="middle" class="tk">10</text>
<text x="344.17" y="625.75" text-anchor="middle" class="tk">11</text>
<text x="370.54" y="625.75" text-anchor="middle" class="tk">12</text>
<text x="396.91" y="625.75" text-anchor="middle" class="tk">13</text>
<text x="423.28" y="625.75" text-anchor="middle" class="tk">14</text>
<text x="449.65" y="625.75" text-anchor="middle" class="tk">15</text>
<text x="476.02" y="625.75" text-anchor="middle" class="tk">16</text>
<text x="264.2" y="650.05" text-anchor="middle" font-family="Liberation Sans" font-weight="bold" font-size="17.2">Weeks</text>
<text transform="translate(17.2,496.5) rotate(-90)" text-anchor="middle" font-family="Liberation Sans" font-weight="bold" font-size="17.35">Response (%, 95%CI)</text>
<polyline points="80.47,584.69 106.84,559.9 133.21,544.45 159.58,535.7 185.95,535.41 212.32,535.41 238.69,532.49 265.06,520.53 291.43,538.03 317.8,529.86 344.17,535.7 370.54,538.61 396.91,544.16 423.28,547.95 449.65,552.03 476.02,541.82" fill="none" stroke="#d62a22" stroke-width="1.4"/>
<path d="M80.47 566.03V595.78M76.57 566.03H84.37M76.57 595.78H84.37M106.84 535.99V575.65M102.94 535.99H110.74M102.94 575.65H110.74M133.21 518.49V564.28M129.31 518.49H137.11M129.31 564.28H137.11M159.58 508.87V556.4M155.68 508.87H163.48M155.68 556.4H163.48M185.95 508.58V556.4M182.05 508.58H189.85M182.05 556.4H189.85M212.32 508.58V556.4M208.42 508.58H216.22M208.42 556.4H216.22M238.69 505.08V554.07M234.79 505.08H242.59M234.79 554.07H242.59M265.06 491.95V543.28M261.16 491.95H268.96M261.16 543.28H268.96M291.43 512.07V559.03M287.53 512.07H295.33M287.53 559.03H295.33M317.8 502.16V552.03M313.9 502.16H321.7M313.9 552.03H321.7M344.17 508.58V556.7M340.27 508.58H348.07M340.27 556.7H348.07M370.54 512.07V559.03M366.64 512.07H374.44M366.64 559.03H374.44M396.91 518.78V563.69M393.01 518.78H400.81M393.01 563.69H400.81M423.28 523.16V566.9M419.38 523.16H427.18M419.38 566.9H427.18M449.65 526.07V569.53M445.75 526.07H453.55M445.75 569.53H453.55M476.02 515.28V561.36M472.12 515.28H479.92M472.12 561.36H479.92" stroke="#d62a22" stroke-width="1.4" fill="none"/>
<rect x="76.27" y="580.49" width="8.4" height="8.4" fill="#d62a22"/>
<rect x="102.64" y="555.7" width="8.4" height="8.4" fill="#d62a22"/>
<rect x="129.01" y="540.25" width="8.4" height="8.4" fill="#d62a22"/>
<rect x="155.38" y="531.5" width="8.4" height="8.4" fill="#d62a22"/>
<rect x="181.75" y="531.21" width="8.4" height="8.4" fill="#d62a22"/>
<rect x="208.12" y="531.21" width="8.4" height="8.4" fill="#d62a22"/>
<rect x="234.49" y="528.29" width="8.4" height="8.4" fill="#d62a22"/>
<rect x="260.86" y="516.33" width="8.4" height="8.4" fill="#d62a22"/>
<rect x="287.23" y="533.83" width="8.4" height="8.4" fill="#d62a22"/>
<rect x="313.6" y="525.66" width="8.4" height="8.4" fill="#d62a22"/>
<rect x="339.97" y="531.5" width="8.4" height="8.4" fill="#d62a22"/>
<rect x="366.34" y="534.41" width="8.4" height="8.4" fill="#d62a22"/>
<rect x="392.71" y="539.96" width="8.4" height="8.4" fill="#d62a22"/>
<rect x="419.08" y="543.75" width="8.4" height="8.4" fill="#d62a22"/>
<rect x="445.45" y="547.83" width="8.4" height="8.4" fill="#d62a22"/>
<rect x="471.82" y="537.62" width="8.4" height="8.4" fill="#d62a22"/>
<polyline points="80.47,591.4 106.84,564.86 133.21,546.78 159.58,544.74 185.95,547.65 212.32,550.86 238.69,541.82 265.06,538.91 291.43,541.53 317.8,550.86 344.17,545.03 370.54,550.28 396.91,545.32 423.28,550.28 449.65,547.95 476.02,544.74" fill="none" stroke="#1c9fdf" stroke-width="1.4"/>
<path d="M80.47 575.36V598.69M76.57 575.36H84.37M76.57 598.69H84.37M106.84 541.82V580.03M102.94 541.82H110.74M102.94 580.03H110.74M133.21 521.99V566.32M129.31 521.99H137.11M129.31 566.32H137.11M159.58 519.07V563.4M155.68 519.07H163.48M155.68 563.4H163.48M185.95 522.28V566.61M182.05 522.28H189.85M182.05 566.61H189.85M212.32 525.49V568.07M208.42 525.49H216.22M208.42 568.07H216.22M238.69 515.87V561.07M234.79 515.87H242.59M234.79 561.07H242.59M265.06 512.95V558.45M261.16 512.95H268.96M261.16 558.45H268.96M291.43 515.87V561.36M287.53 515.87H295.33M287.53 561.36H295.33M317.8 525.78V568.36M313.9 525.78H321.7M313.9 568.36H321.7M344.17 519.07V563.11M340.27 519.07H348.07M340.27 563.11H348.07M370.54 525.78V568.07M366.64 525.78H374.44M366.64 568.07H374.44M396.91 518.78V563.69M393.01 518.78H400.81M393.01 563.69H400.81M423.28 526.37V568.65M419.38 526.37H427.18M419.38 568.65H427.18M449.65 522.28V565.74M445.75 522.28H453.55M445.75 565.74H453.55M476.02 519.37V563.69M472.12 519.37H479.92M472.12 563.69H479.92" stroke="#1c9fdf" stroke-width="1.4" fill="none"/>
<path d="M80.47 586.78L85.09 591.4L80.47 596.02L75.85 591.4Z" fill="#1c9fdf"/>
<path d="M106.84 560.24L111.46 564.86L106.84 569.48L102.22 564.86Z" fill="#1c9fdf"/>
<path d="M133.21 542.16L137.83 546.78L133.21 551.4L128.59 546.78Z" fill="#1c9fdf"/>
<path d="M159.58 540.12L164.2 544.74L159.58 549.36L154.96 544.74Z" fill="#1c9fdf"/>
<path d="M185.95 543.03L190.57 547.65L185.95 552.27L181.33 547.65Z" fill="#1c9fdf"/>
<path d="M212.32 546.24L216.94 550.86L212.32 555.48L207.7 550.86Z" fill="#1c9fdf"/>
<path d="M238.69 537.2L243.31 541.82L238.69 546.44L234.07 541.82Z" fill="#1c9fdf"/>
<path d="M265.06 534.29L269.68 538.91L265.06 543.53L260.44 538.91Z" fill="#1c9fdf"/>
<path d="M291.43 536.91L296.05 541.53L291.43 546.15L286.81 541.53Z" fill="#1c9fdf"/>
<path d="M317.8 546.24L322.42 550.86L317.8 555.48L313.18 550.86Z" fill="#1c9fdf"/>
<path d="M344.17 540.41L348.79 545.03L344.17 549.65L339.55 545.03Z" fill="#1c9fdf"/>
<path d="M370.54 545.66L375.16 550.28L370.54 554.9L365.92 550.28Z" fill="#1c9fdf"/>
<path d="M396.91 540.7L401.53 545.32L396.91 549.94L392.29 545.32Z" fill="#1c9fdf"/>
<path d="M423.28 545.66L427.9 550.28L423.28 554.9L418.66 550.28Z" fill="#1c9fdf"/>
<path d="M449.65 543.33L454.27 547.95L449.65 552.57L445.03 547.95Z" fill="#1c9fdf"/>
<path d="M476.02 540.12L480.64 544.74L476.02 549.36L471.4 544.74Z" fill="#1c9fdf"/>
<polyline points="80.47,600.15 106.84,587.03 133.21,572.44 159.58,578.28 185.95,565.44 212.32,568.07 238.69,568.65 265.06,561.95 291.43,575.94 317.8,572.74 344.17,579.44 370.54,575.94 396.91,575.36 423.28,579.15 449.65,585.28 476.02,579.44" fill="none" stroke="#d5d4cd" stroke-width="1.4"/>
<path d="M80.47 592.86V600.15M76.57 592.86H84.37M76.57 600.15H84.37M106.84 573.9V594.9M102.94 573.9H110.74M102.94 594.9H110.74M133.21 554.95V584.11M129.31 554.95H137.11M129.31 584.11H137.11M159.58 562.24V588.48M155.68 562.24H163.48M155.68 588.48H163.48M185.95 547.65V579.74M182.05 547.65H189.85M182.05 579.74H189.85M212.32 550.57V581.19M208.42 550.57H216.22M208.42 581.19H216.22M238.69 550.57V581.19M234.79 550.57H242.59M234.79 581.19H242.59M265.06 543.28V576.82M261.16 543.28H268.96M261.16 576.82H268.96M291.43 553.49V587.03M287.53 553.49H295.33M287.53 587.03H295.33M317.8 556.4V584.11M313.9 556.4H321.7M313.9 584.11H321.7M344.17 562.24V588.48M340.27 562.24H348.07M340.27 588.48H348.07M370.54 559.32V587.03M366.64 559.32H374.44M366.64 587.03H374.44M396.91 553.49V586.15M393.01 553.49H400.81M393.01 586.15H400.81M423.28 563.69V588.48M419.38 563.69H427.18M419.38 588.48H427.18M449.65 570.99V592.86M445.75 570.99H453.55M445.75 592.86H453.55M476.02 563.69V588.48M472.12 563.69H479.92M472.12 588.48H479.92" stroke="#d5d4cd" stroke-width="1.4" fill="none"/>
<path d="M76.27 600.15H84.67M80.47 595.95V604.35" stroke="#d5d4cd" stroke-width="1.8" fill="none"/>
<path d="M102.64 587.03H111.04M106.84 582.83V591.23" stroke="#d5d4cd" stroke-width="1.8" fill="none"/>
<path d="M129.01 572.44H137.41M133.21 568.24V576.64" stroke="#d5d4cd" stroke-width="1.8" fill="none"/>
<path d="M155.38 578.28H163.78M159.58 574.08V582.48" stroke="#d5d4cd" stroke-width="1.8" fill="none"/>
<path d="M181.75 565.44H190.15M185.95 561.24V569.64" stroke="#d5d4cd" stroke-width="1.8" fill="none"/>
<path d="M208.12 568.07H216.52M212.32 563.87V572.27" stroke="#d5d4cd" stroke-width="1.8" fill="none"/>
<path d="M234.49 568.65H242.89M238.69 564.45V572.85" stroke="#d5d4cd" stroke-width="1.8" fill="none"/>
<path d="M260.86 561.95H269.26M265.06 557.75V566.15" stroke="#d5d4cd" stroke-width="1.8" fill="none"/>
<path d="M287.23 575.94H295.63M291.43 571.74V580.14" stroke="#d5d4cd" stroke-width="1.8" fill="none"/>
<path d="M313.6 572.74H322M317.8 568.54V576.94" stroke="#d5d4cd" stroke-width="1.8" fill="none"/>
<path d="M339.97 579.44H348.37M344.17 575.24V583.64" stroke="#d5d4cd" stroke-width="1.8" fill="none"/>
<path d="M366.34 575.94H374.74M370.54 571.74V580.14" stroke="#d5d4cd" stroke-width="1.8" fill="none"/>
<path d="M392.71 575.36H401.11M396.91 571.16V579.56" stroke="#d5d4cd" stroke-width="1.8" fill="none"/>
<path d="M419.08 579.15H427.48M423.28 574.95V583.35" stroke="#d5d4cd" stroke-width="1.8" fill="none"/>
<path d="M445.45 585.28H453.85M449.65 581.08V589.48" stroke="#d5d4cd" stroke-width="1.8" fill="none"/>
<path d="M471.82 579.44H480.22M476.02 575.24V583.64" stroke="#d5d4cd" stroke-width="1.8" fill="none"/>
<polyline points="80.47,596.94 106.84,591.69 133.21,588.78 159.58,589.07 185.95,587.32 212.32,585.86 238.69,586.15 265.06,582.65 291.43,581.78 317.8,586.44 344.17,586.44 370.54,587.32 396.91,586.44 423.28,582.65 449.65,587.61 476.02,583.23" fill="none" stroke="#8a7e78" stroke-width="1.4"/>
<path d="M80.47 590.82V600.15M76.57 590.82H84.37M76.57 600.15H84.37M106.84 582.07V597.23M102.94 582.07H110.74M102.94 597.23H110.74M133.21 578.28V594.9M129.31 578.28H137.11M129.31 594.9H137.11M159.58 578.57V594.9M155.68 578.57H163.48M155.68 594.9H163.48M185.95 576.24V593.15M182.05 576.24H189.85M182.05 593.15H189.85M212.32 573.9V592.28M208.42 573.9H216.22M208.42 592.28H216.22M238.69 573.9V592.28M234.79 573.9H242.59M234.79 592.28H242.59M265.06 570.4V589.07M261.16 570.4H268.96M261.16 589.07H268.96M291.43 568.65V588.78M287.53 568.65H295.33M287.53 588.78H295.33M317.8 574.49V592.28M313.9 574.49H321.7M313.9 592.28H321.7M344.17 574.49V592.28M340.27 574.49H348.07M340.27 592.28H348.07M370.54 576.24V593.15M366.64 576.24H374.44M366.64 593.15H374.44M396.91 574.19V592.57M393.01 574.19H400.81M393.01 592.57H400.81M423.28 570.4V590.23M419.38 570.4H427.18M419.38 590.23H427.18M449.65 576.53V593.15M445.75 576.53H453.55M445.75 593.15H453.55M476.02 570.4V590.23M472.12 570.4H479.92M472.12 590.23H479.92" stroke="#8a7e78" stroke-width="1.4" fill="none"/>
<circle cx="80.47" cy="596.94" r="4.2" fill="#8a7e78"/>
<circle cx="106.84" cy="591.69" r="4.2" fill="#8a7e78"/>
<circle cx="133.21" cy="588.78" r="4.2" fill="#8a7e78"/>
<circle cx="159.58" cy="589.07" r="4.2" fill="#8a7e78"/>
<circle cx="185.95" cy="587.32" r="4.2" fill="#8a7e78"/>
<circle cx="212.32" cy="585.86" r="4.2" fill="#8a7e78"/>
<circle cx="238.69" cy="586.15" r="4.2" fill="#8a7e78"/>
<circle cx="265.06" cy="582.65" r="4.2" fill="#8a7e78"/>
<circle cx="291.43" cy="581.78" r="4.2" fill="#8a7e78"/>
<circle cx="317.8" cy="586.44" r="4.2" fill="#8a7e78"/>
<circle cx="344.17" cy="586.44" r="4.2" fill="#8a7e78"/>
<circle cx="370.54" cy="587.32" r="4.2" fill="#8a7e78"/>
<circle cx="396.91" cy="586.44" r="4.2" fill="#8a7e78"/>
<circle cx="423.28" cy="582.65" r="4.2" fill="#8a7e78"/>
<circle cx="449.65" cy="587.61" r="4.2" fill="#8a7e78"/>
<circle cx="476.02" cy="583.23" r="4.2" fill="#8a7e78"/>
<path d="M80.47 560.9L80.47 558.15M80.47 560.9L83.09 560.05M80.47 560.9L82.09 563.12M80.47 560.9L78.85 563.12M80.47 560.9L77.85 560.05" stroke="#d62a22" stroke-width="1.2" stroke-linecap="butt" fill="none"/>
<path d="M99.34 532L99.34 529.25M99.34 532L101.96 531.15M99.34 532L100.96 534.22M99.34 532L97.72 534.22M99.34 532L96.72 531.15" stroke="#d62a22" stroke-width="1.2" stroke-linecap="butt" fill="none"/>
<path d="M106.84 532L106.84 529.25M106.84 532L109.46 531.15M106.84 532L108.46 534.22M106.84 532L105.22 534.22M106.84 532L104.22 531.15" stroke="#d62a22" stroke-width="1.2" stroke-linecap="butt" fill="none"/>
<path d="M114.34 532L114.34 529.25M114.34 532L116.96 531.15M114.34 532L115.96 534.22M114.34 532L112.72 534.22M114.34 532L111.72 531.15" stroke="#d62a22" stroke-width="1.2" stroke-linecap="butt" fill="none"/>
<path d="M103.09 525L103.09 522.25M103.09 525L105.71 524.15M103.09 525L104.71 527.22M103.09 525L101.47 527.22M103.09 525L100.47 524.15" stroke="#1c9fdf" stroke-width="1.2" stroke-linecap="butt" fill="none"/>
<path d="M110.59 525L110.59 522.25M110.59 525L113.21 524.15M110.59 525L112.21 527.22M110.59 525L108.97 527.22M110.59 525L107.97 524.15" stroke="#1c9fdf" stroke-width="1.2" stroke-linecap="butt" fill="none"/>
<path d="M125.71 511.8L125.71 509.05M125.71 511.8L128.33 510.95M125.71 511.8L127.33 514.02M125.71 511.8L124.09 514.02M125.71 511.8L123.09 510.95" stroke="#d62a22" stroke-width="1.2" stroke-linecap="butt" fill="none"/>
<path d="M133.21 511.8L133.21 509.05M133.21 511.8L135.83 510.95M133.21 511.8L134.83 514.02M133.21 511.8L131.59 514.02M133.21 511.8L130.59 510.95" stroke="#d62a22" stroke-width="1.2" stroke-linecap="butt" fill="none"/>
<path d="M140.71 511.8L140.71 509.05M140.71 511.8L143.33 510.95M140.71 511.8L142.33 514.02M140.71 511.8L139.09 514.02M140.71 511.8L138.09 510.95" stroke="#d62a22" stroke-width="1.2" stroke-linecap="butt" fill="none"/>
<path d="M125.71 504.8L125.71 502.05M125.71 504.8L128.33 503.95M125.71 504.8L127.33 507.02M125.71 504.8L124.09 507.02M125.71 504.8L123.09 503.95" stroke="#1c9fdf" stroke-width="1.2" stroke-linecap="butt" fill="none"/>
<path d="M133.21 504.8L133.21 502.05M133.21 504.8L135.83 503.95M133.21 504.8L134.83 507.02M133.21 504.8L131.59 507.02M133.21 504.8L130.59 503.95" stroke="#1c9fdf" stroke-width="1.2" stroke-linecap="butt" fill="none"/>
<path d="M140.71 504.8L140.71 502.05M140.71 504.8L143.33 503.95M140.71 504.8L142.33 507.02M140.71 504.8L139.09 507.02M140.71 504.8L138.09 503.95" stroke="#1c9fdf" stroke-width="1.2" stroke-linecap="butt" fill="none"/>
<path d="M152.08 501.7L152.08 498.95M152.08 501.7L154.7 500.85M152.08 501.7L153.7 503.92M152.08 501.7L150.46 503.92M152.08 501.7L149.46 500.85" stroke="#d62a22" stroke-width="1.2" stroke-linecap="butt" fill="none"/>
<path d="M159.58 501.7L159.58 498.95M159.58 501.7L162.2 500.85M159.58 501.7L161.2 503.92M159.58 501.7L157.96 503.92M159.58 501.7L156.96 500.85" stroke="#d62a22" stroke-width="1.2" stroke-linecap="butt" fill="none"/>
<path d="M167.08 501.7L167.08 498.95M167.08 501.7L169.7 500.85M167.08 501.7L168.7 503.92M167.08 501.7L165.46 503.92M167.08 501.7L164.46 500.85" stroke="#d62a22" stroke-width="1.2" stroke-linecap="butt" fill="none"/>
<path d="M152.08 494.7L152.08 491.95M152.08 494.7L154.7 493.85M152.08 494.7L153.7 496.92M152.08 494.7L150.46 496.92M152.08 494.7L149.46 493.85" stroke="#1c9fdf" stroke-width="1.2" stroke-linecap="butt" fill="none"/>
<path d="M159.58 494.7L159.58 491.95M159.58 494.7L162.2 493.85M159.58 494.7L161.2 496.92M159.58 494.7L157.96 496.92M159.58 494.7L156.96 493.85" stroke="#1c9fdf" stroke-width="1.2" stroke-linecap="butt" fill="none"/>
<path d="M167.08 494.7L167.08 491.95M167.08 494.7L169.7 493.85M167.08 494.7L168.7 496.92M167.08 494.7L165.46 496.92M167.08 494.7L164.46 493.85" stroke="#1c9fdf" stroke-width="1.2" stroke-linecap="butt" fill="none"/>
<path d="M178.45 501.6L178.45 498.85M178.45 501.6L181.07 500.75M178.45 501.6L180.07 503.82M178.45 501.6L176.83 503.82M178.45 501.6L175.83 500.75" stroke="#d62a22" stroke-width="1.2" stroke-linecap="butt" fill="none"/>
<path d="M185.95 501.6L185.95 498.85M185.95 501.6L188.57 500.75M185.95 501.6L187.57 503.82M185.95 501.6L184.33 503.82M185.95 501.6L183.33 500.75" stroke="#d62a22" stroke-width="1.2" stroke-linecap="butt" fill="none"/>
<path d="M193.45 501.6L193.45 498.85M193.45 501.6L196.07 500.75M193.45 501.6L195.07 503.82M193.45 501.6L191.83 503.82M193.45 501.6L190.83 500.75" stroke="#d62a22" stroke-width="1.2" stroke-linecap="butt" fill="none"/>
<path d="M178.45 494.1L178.45 491.35M178.45 494.1L181.07 493.25M178.45 494.1L180.07 496.32M178.45 494.1L176.83 496.32M178.45 494.1L175.83 493.25" stroke="#1c9fdf" stroke-width="1.2" stroke-linecap="butt" fill="none"/>
<path d="M185.95 494.1L185.95 491.35M185.95 494.1L188.57 493.25M185.95 494.1L187.57 496.32M185.95 494.1L184.33 496.32M185.95 494.1L183.33 493.25" stroke="#1c9fdf" stroke-width="1.2" stroke-linecap="butt" fill="none"/>
<path d="M193.45 494.1L193.45 491.35M193.45 494.1L196.07 493.25M193.45 494.1L195.07 496.32M193.45 494.1L191.83 496.32M193.45 494.1L190.83 493.25" stroke="#1c9fdf" stroke-width="1.2" stroke-linecap="butt" fill="none"/>
<path d="M185.95 487L185.95 484.25M185.95 487L188.57 486.15M185.95 487L187.57 489.22M185.95 487L184.33 489.22M185.95 487L183.33 486.15" stroke="#cfcfcc" stroke-width="1.2" stroke-linecap="butt" fill="none"/>
<path d="M204.82 501.6L204.82 498.85M204.82 501.6L207.44 500.75M204.82 501.6L206.44 503.82M204.82 501.6L203.2 503.82M204.82 501.6L202.2 500.75" stroke="#d62a22" stroke-width="1.2" stroke-linecap="butt" fill="none"/>
<path d="M212.32 501.6L212.32 498.85M212.32 501.6L214.94 500.75M212.32 501.6L213.94 503.82M212.32 501.6L210.7 503.82M212.32 501.6L209.7 500.75" stroke="#d62a22" stroke-width="1.2" stroke-linecap="butt" fill="none"/>
<path d="M219.82 501.6L219.82 498.85M219.82 501.6L222.44 500.75M219.82 501.6L221.44 503.82M219.82 501.6L218.2 503.82M219.82 501.6L217.2 500.75" stroke="#d62a22" stroke-width="1.2" stroke-linecap="butt" fill="none"/>
<path d="M204.82 494.4L204.82 491.65M204.82 494.4L207.44 493.55M204.82 494.4L206.44 496.62M204.82 494.4L203.2 496.62M204.82 494.4L202.2 493.55" stroke="#1c9fdf" stroke-width="1.2" stroke-linecap="butt" fill="none"/>
<path d="M212.32 494.4L212.32 491.65M212.32 494.4L214.94 493.55M212.32 494.4L213.94 496.62M212.32 494.4L210.7 496.62M212.32 494.4L209.7 493.55" stroke="#1c9fdf" stroke-width="1.2" stroke-linecap="butt" fill="none"/>
<path d="M219.82 494.4L219.82 491.65M219.82 494.4L222.44 493.55M219.82 494.4L221.44 496.62M219.82 494.4L218.2 496.62M219.82 494.4L217.2 493.55" stroke="#1c9fdf" stroke-width="1.2" stroke-linecap="butt" fill="none"/>
<path d="M231.19 496.6L231.19 493.85M231.19 496.6L233.81 495.75M231.19 496.6L232.81 498.82M231.19 496.6L229.57 498.82M231.19 496.6L228.57 495.75" stroke="#d62a22" stroke-width="1.2" stroke-linecap="butt" fill="none"/>
<path d="M238.69 496.6L238.69 493.85M238.69 496.6L241.31 495.75M238.69 496.6L240.31 498.82M238.69 496.6L237.07 498.82M238.69 496.6L236.07 495.75" stroke="#d62a22" stroke-width="1.2" stroke-linecap="butt" fill="none"/>
<path d="M246.19 496.6L246.19 493.85M246.19 496.6L248.81 495.75M246.19 496.6L247.81 498.82M246.19 496.6L244.57 498.82M246.19 496.6L243.57 495.75" stroke="#d62a22" stroke-width="1.2" stroke-linecap="butt" fill="none"/>
<path d="M231.19 489.1L231.19 486.35M231.19 489.1L233.81 488.25M231.19 489.1L232.81 491.32M231.19 489.1L229.57 491.32M231.19 489.1L228.57 488.25" stroke="#1c9fdf" stroke-width="1.2" stroke-linecap="butt" fill="none"/>
<path d="M238.69 489.1L238.69 486.35M238.69 489.1L241.31 488.25M238.69 489.1L240.31 491.32M238.69 489.1L237.07 491.32M238.69 489.1L236.07 488.25" stroke="#1c9fdf" stroke-width="1.2" stroke-linecap="butt" fill="none"/>
<path d="M246.19 489.1L246.19 486.35M246.19 489.1L248.81 488.25M246.19 489.1L247.81 491.32M246.19 489.1L244.57 491.32M246.19 489.1L243.57 488.25" stroke="#1c9fdf" stroke-width="1.2" stroke-linecap="butt" fill="none"/>
<path d="M257.56 485.2L257.56 482.45M257.56 485.2L260.18 484.35M257.56 485.2L259.18 487.42M257.56 485.2L255.94 487.42M257.56 485.2L254.94 484.35" stroke="#d62a22" stroke-width="1.2" stroke-linecap="butt" fill="none"/>
<path d="M265.06 485.2L265.06 482.45M265.06 485.2L267.68 484.35M265.06 485.2L266.68 487.42M265.06 485.2L263.44 487.42M265.06 485.2L262.44 484.35" stroke="#d62a22" stroke-width="1.2" stroke-linecap="butt" fill="none"/>
<path d="M272.56 485.2L272.56 482.45M272.56 485.2L275.18 484.35M272.56 485.2L274.18 487.42M272.56 485.2L270.94 487.42M272.56 485.2L269.94 484.35" stroke="#d62a22" stroke-width="1.2" stroke-linecap="butt" fill="none"/>
<path d="M257.56 478L257.56 475.25M257.56 478L260.18 477.15M257.56 478L259.18 480.22M257.56 478L255.94 480.22M257.56 478L254.94 477.15" stroke="#1c9fdf" stroke-width="1.2" stroke-linecap="butt" fill="none"/>
<path d="M265.06 478L265.06 475.25M265.06 478L267.68 477.15M265.06 478L266.68 480.22M265.06 478L263.44 480.22M265.06 478L262.44 477.15" stroke="#1c9fdf" stroke-width="1.2" stroke-linecap="butt" fill="none"/>
<path d="M272.56 478L272.56 475.25M272.56 478L275.18 477.15M272.56 478L274.18 480.22M272.56 478L270.94 480.22M272.56 478L269.94 477.15" stroke="#1c9fdf" stroke-width="1.2" stroke-linecap="butt" fill="none"/>
<path d="M265.06 469.8L265.06 467.05M265.06 469.8L267.68 468.95M265.06 469.8L266.68 472.02M265.06 469.8L263.44 472.02M265.06 469.8L262.44 468.95" stroke="#cfcfcc" stroke-width="1.2" stroke-linecap="butt" fill="none"/>
<path d="M283.93 503.4L283.93 500.65M283.93 503.4L286.55 502.55M283.93 503.4L285.55 505.62M283.93 503.4L282.31 505.62M283.93 503.4L281.31 502.55" stroke="#d62a22" stroke-width="1.2" stroke-linecap="butt" fill="none"/>
<path d="M291.43 503.4L291.43 500.65M291.43 503.4L294.05 502.55M291.43 503.4L293.05 505.62M291.43 503.4L289.81 505.62M291.43 503.4L288.81 502.55" stroke="#d62a22" stroke-width="1.2" stroke-linecap="butt" fill="none"/>
<path d="M298.93 503.4L298.93 500.65M298.93 503.4L301.55 502.55M298.93 503.4L300.55 505.62M298.93 503.4L297.31 505.62M298.93 503.4L296.31 502.55" stroke="#d62a22" stroke-width="1.2" stroke-linecap="butt" fill="none"/>
<path d="M283.93 496.6L283.93 493.85M283.93 496.6L286.55 495.75M283.93 496.6L285.55 498.82M283.93 496.6L282.31 498.82M283.93 496.6L281.31 495.75" stroke="#1c9fdf" stroke-width="1.2" stroke-linecap="butt" fill="none"/>
<path d="M291.43 496.6L291.43 493.85M291.43 496.6L294.05 495.75M291.43 496.6L293.05 498.82M291.43 496.6L289.81 498.82M291.43 496.6L288.81 495.75" stroke="#1c9fdf" stroke-width="1.2" stroke-linecap="butt" fill="none"/>
<path d="M298.93 496.6L298.93 493.85M298.93 496.6L301.55 495.75M298.93 496.6L300.55 498.82M298.93 496.6L297.31 498.82M298.93 496.6L296.31 495.75" stroke="#1c9fdf" stroke-width="1.2" stroke-linecap="butt" fill="none"/>
<path d="M310.3 494.1L310.3 491.35M310.3 494.1L312.92 493.25M310.3 494.1L311.92 496.32M310.3 494.1L308.68 496.32M310.3 494.1L307.68 493.25" stroke="#d62a22" stroke-width="1.2" stroke-linecap="butt" fill="none"/>
<path d="M317.8 494.1L317.8 491.35M317.8 494.1L320.42 493.25M317.8 494.1L319.42 496.32M317.8 494.1L316.18 496.32M317.8 494.1L315.18 493.25" stroke="#d62a22" stroke-width="1.2" stroke-linecap="butt" fill="none"/>
<path d="M325.3 494.1L325.3 491.35M325.3 494.1L327.92 493.25M325.3 494.1L326.92 496.32M325.3 494.1L323.68 496.32M325.3 494.1L322.68 493.25" stroke="#d62a22" stroke-width="1.2" stroke-linecap="butt" fill="none"/>
<path d="M310.3 487.3L310.3 484.55M310.3 487.3L312.92 486.45M310.3 487.3L311.92 489.52M310.3 487.3L308.68 489.52M310.3 487.3L307.68 486.45" stroke="#1c9fdf" stroke-width="1.2" stroke-linecap="butt" fill="none"/>
<path d="M317.8 487.3L317.8 484.55M317.8 487.3L320.42 486.45M317.8 487.3L319.42 489.52M317.8 487.3L316.18 489.52M317.8 487.3L315.18 486.45" stroke="#1c9fdf" stroke-width="1.2" stroke-linecap="butt" fill="none"/>
<path d="M325.3 487.3L325.3 484.55M325.3 487.3L327.92 486.45M325.3 487.3L326.92 489.52M325.3 487.3L323.68 489.52M325.3 487.3L322.68 486.45" stroke="#1c9fdf" stroke-width="1.2" stroke-linecap="butt" fill="none"/>
<path d="M336.67 499.5L336.67 496.75M336.67 499.5L339.29 498.65M336.67 499.5L338.29 501.72M336.67 499.5L335.05 501.72M336.67 499.5L334.05 498.65" stroke="#d62a22" stroke-width="1.2" stroke-linecap="butt" fill="none"/>
<path d="M344.17 499.5L344.17 496.75M344.17 499.5L346.79 498.65M344.17 499.5L345.79 501.72M344.17 499.5L342.55 501.72M344.17 499.5L341.55 498.65" stroke="#d62a22" stroke-width="1.2" stroke-linecap="butt" fill="none"/>
<path d="M351.67 499.5L351.67 496.75M351.67 499.5L354.29 498.65M351.67 499.5L353.29 501.72M351.67 499.5L350.05 501.72M351.67 499.5L349.05 498.65" stroke="#d62a22" stroke-width="1.2" stroke-linecap="butt" fill="none"/>
<path d="M336.67 493L336.67 490.25M336.67 493L339.29 492.15M336.67 493L338.29 495.22M336.67 493L335.05 495.22M336.67 493L334.05 492.15" stroke="#1c9fdf" stroke-width="1.2" stroke-linecap="butt" fill="none"/>
<path d="M344.17 493L344.17 490.25M344.17 493L346.79 492.15M344.17 493L345.79 495.22M344.17 493L342.55 495.22M344.17 493L341.55 492.15" stroke="#1c9fdf" stroke-width="1.2" stroke-linecap="butt" fill="none"/>
<path d="M351.67 493L351.67 490.25M351.67 493L354.29 492.15M351.67 493L353.29 495.22M351.67 493L350.05 495.22M351.67 493L349.05 492.15" stroke="#1c9fdf" stroke-width="1.2" stroke-linecap="butt" fill="none"/>
<path d="M363.04 504.3L363.04 501.55M363.04 504.3L365.66 503.45M363.04 504.3L364.66 506.52M363.04 504.3L361.42 506.52M363.04 504.3L360.42 503.45" stroke="#d62a22" stroke-width="1.2" stroke-linecap="butt" fill="none"/>
<path d="M370.54 504.3L370.54 501.55M370.54 504.3L373.16 503.45M370.54 504.3L372.16 506.52M370.54 504.3L368.92 506.52M370.54 504.3L367.92 503.45" stroke="#d62a22" stroke-width="1.2" stroke-linecap="butt" fill="none"/>
<path d="M378.04 504.3L378.04 501.55M378.04 504.3L380.66 503.45M378.04 504.3L379.66 506.52M378.04 504.3L376.42 506.52M378.04 504.3L375.42 503.45" stroke="#d62a22" stroke-width="1.2" stroke-linecap="butt" fill="none"/>
<path d="M363.04 497.7L363.04 494.95M363.04 497.7L365.66 496.85M363.04 497.7L364.66 499.92M363.04 497.7L361.42 499.92M363.04 497.7L360.42 496.85" stroke="#1c9fdf" stroke-width="1.2" stroke-linecap="butt" fill="none"/>
<path d="M370.54 497.7L370.54 494.95M370.54 497.7L373.16 496.85M370.54 497.7L372.16 499.92M370.54 497.7L368.92 499.92M370.54 497.7L367.92 496.85" stroke="#1c9fdf" stroke-width="1.2" stroke-linecap="butt" fill="none"/>
<path d="M378.04 497.7L378.04 494.95M378.04 497.7L380.66 496.85M378.04 497.7L379.66 499.92M378.04 497.7L376.42 499.92M378.04 497.7L375.42 496.85" stroke="#1c9fdf" stroke-width="1.2" stroke-linecap="butt" fill="none"/>
<path d="M389.41 512.2L389.41 509.45M389.41 512.2L392.03 511.35M389.41 512.2L391.03 514.42M389.41 512.2L387.79 514.42M389.41 512.2L386.79 511.35" stroke="#d62a22" stroke-width="1.2" stroke-linecap="butt" fill="none"/>
<path d="M396.91 512.2L396.91 509.45M396.91 512.2L399.53 511.35M396.91 512.2L398.53 514.42M396.91 512.2L395.29 514.42M396.91 512.2L394.29 511.35" stroke="#d62a22" stroke-width="1.2" stroke-linecap="butt" fill="none"/>
<path d="M404.41 512.2L404.41 509.45M404.41 512.2L407.03 511.35M404.41 512.2L406.03 514.42M404.41 512.2L402.79 514.42M404.41 512.2L401.79 511.35" stroke="#d62a22" stroke-width="1.2" stroke-linecap="butt" fill="none"/>
<path d="M389.41 505L389.41 502.25M389.41 505L392.03 504.15M389.41 505L391.03 507.22M389.41 505L387.79 507.22M389.41 505L386.79 504.15" stroke="#1c9fdf" stroke-width="1.2" stroke-linecap="butt" fill="none"/>
<path d="M396.91 505L396.91 502.25M396.91 505L399.53 504.15M396.91 505L398.53 507.22M396.91 505L395.29 507.22M396.91 505L394.29 504.15" stroke="#1c9fdf" stroke-width="1.2" stroke-linecap="butt" fill="none"/>
<path d="M404.41 505L404.41 502.25M404.41 505L407.03 504.15M404.41 505L406.03 507.22M404.41 505L402.79 507.22M404.41 505L401.79 504.15" stroke="#1c9fdf" stroke-width="1.2" stroke-linecap="butt" fill="none"/>
<path d="M415.78 514.4L415.78 511.65M415.78 514.4L418.4 513.55M415.78 514.4L417.4 516.62M415.78 514.4L414.16 516.62M415.78 514.4L413.16 513.55" stroke="#d62a22" stroke-width="1.2" stroke-linecap="butt" fill="none"/>
<path d="M423.28 514.4L423.28 511.65M423.28 514.4L425.9 513.55M423.28 514.4L424.9 516.62M423.28 514.4L421.66 516.62M423.28 514.4L420.66 513.55" stroke="#d62a22" stroke-width="1.2" stroke-linecap="butt" fill="none"/>
<path d="M430.78 514.4L430.78 511.65M430.78 514.4L433.4 513.55M430.78 514.4L432.4 516.62M430.78 514.4L429.16 516.62M430.78 514.4L428.16 513.55" stroke="#d62a22" stroke-width="1.2" stroke-linecap="butt" fill="none"/>
<path d="M419.53 506.6L419.53 503.85M419.53 506.6L422.15 505.75M419.53 506.6L421.15 508.82M419.53 506.6L417.91 508.82M419.53 506.6L416.91 505.75" stroke="#1c9fdf" stroke-width="1.2" stroke-linecap="butt" fill="none"/>
<path d="M427.03 506.6L427.03 503.85M427.03 506.6L429.65 505.75M427.03 506.6L428.65 508.82M427.03 506.6L425.41 508.82M427.03 506.6L424.41 505.75" stroke="#1c9fdf" stroke-width="1.2" stroke-linecap="butt" fill="none"/>
<path d="M442.15 513.8L442.15 511.05M442.15 513.8L444.77 512.95M442.15 513.8L443.77 516.02M442.15 513.8L440.53 516.02M442.15 513.8L439.53 512.95" stroke="#d62a22" stroke-width="1.2" stroke-linecap="butt" fill="none"/>
<path d="M449.65 513.8L449.65 511.05M449.65 513.8L452.27 512.95M449.65 513.8L451.27 516.02M449.65 513.8L448.03 516.02M449.65 513.8L447.03 512.95" stroke="#d62a22" stroke-width="1.2" stroke-linecap="butt" fill="none"/>
<path d="M457.15 513.8L457.15 511.05M457.15 513.8L459.77 512.95M457.15 513.8L458.77 516.02M457.15 513.8L455.53 516.02M457.15 513.8L454.53 512.95" stroke="#d62a22" stroke-width="1.2" stroke-linecap="butt" fill="none"/>
<path d="M442.15 506.6L442.15 503.85M442.15 506.6L444.77 505.75M442.15 506.6L443.77 508.82M442.15 506.6L440.53 508.82M442.15 506.6L439.53 505.75" stroke="#1c9fdf" stroke-width="1.2" stroke-linecap="butt" fill="none"/>
<path d="M449.65 506.6L449.65 503.85M449.65 506.6L452.27 505.75M449.65 506.6L451.27 508.82M449.65 506.6L448.03 508.82M449.65 506.6L447.03 505.75" stroke="#1c9fdf" stroke-width="1.2" stroke-linecap="butt" fill="none"/>
<path d="M457.15 506.6L457.15 503.85M457.15 506.6L459.77 505.75M457.15 506.6L458.77 508.82M457.15 506.6L455.53 508.82M457.15 506.6L454.53 505.75" stroke="#1c9fdf" stroke-width="1.2" stroke-linecap="butt" fill="none"/>
<path d="M468.52 502.6L468.52 499.85M468.52 502.6L471.14 501.75M468.52 502.6L470.14 504.82M468.52 502.6L466.9 504.82M468.52 502.6L465.9 501.75" stroke="#d62a22" stroke-width="1.2" stroke-linecap="butt" fill="none"/>
<path d="M476.02 502.6L476.02 499.85M476.02 502.6L478.64 501.75M476.02 502.6L477.64 504.82M476.02 502.6L474.4 504.82M476.02 502.6L473.4 501.75" stroke="#d62a22" stroke-width="1.2" stroke-linecap="butt" fill="none"/>
<path d="M483.52 502.6L483.52 499.85M483.52 502.6L486.14 501.75M483.52 502.6L485.14 504.82M483.52 502.6L481.9 504.82M483.52 502.6L480.9 501.75" stroke="#d62a22" stroke-width="1.2" stroke-linecap="butt" fill="none"/>
<path d="M468.52 495L468.52 492.25M468.52 495L471.14 494.15M468.52 495L470.14 497.22M468.52 495L466.9 497.22M468.52 495L465.9 494.15" stroke="#1c9fdf" stroke-width="1.2" stroke-linecap="butt" fill="none"/>
<path d="M476.02 495L476.02 492.25M476.02 495L478.64 494.15M476.02 495L477.64 497.22M476.02 495L474.4 497.22M476.02 495L473.4 494.15" stroke="#1c9fdf" stroke-width="1.2" stroke-linecap="butt" fill="none"/>
<path d="M483.52 495L483.52 492.25M483.52 495L486.14 494.15M483.52 495L485.14 497.22M483.52 495L481.9 497.22M483.52 495L480.9 494.15" stroke="#1c9fdf" stroke-width="1.2" stroke-linecap="butt" fill="none"/>
<text x="89.8" y="523.9" text-anchor="end" class="nl" fill="#d62a22">5.3</text>
<text x="89.8" y="535.1" text-anchor="end" class="nl" fill="#1c9fdf">3.0</text>
<text x="89.8" y="545.8" text-anchor="end" class="nl" fill="#d5d4cd">0.0</text>
<text x="89.8" y="557.1" text-anchor="end" class="nl" fill="#8a7e78">1.1</text>
<text x="483.6" y="545.1" class="nl" fill="#d62a22">20.0</text>
<text x="483.6" y="556.5" class="nl" fill="#1c9fdf">19.0</text>
<text x="483.6" y="581.9" class="nl" fill="#d5d4cd">7.1</text>
<text x="483.6" y="592.7" class="nl" fill="#8a7e78">5.8</text>
<path d="M522.8 409.6H544.5" stroke="#8a7e78" stroke-width="1.3"/>
<circle cx="533.6" cy="409.6" r="4.15" fill="#8a7e78"/>
<text x="557.3" y="415.2" class="lg">PBO</text>
<path d="M522.8 437.3H544.5" stroke="#d5d4cd" stroke-width="1.3"/>
<path d="M529.45 437.3H537.75M533.6 433.15V441.45" stroke="#d5d4cd" stroke-width="1.8" fill="none"/>
<text x="557.3" y="442.9" class="lg">Bari 1-mg</text>
<path d="M522.8 465H544.5" stroke="#1c9fdf" stroke-width="1.3"/>
<path d="M533.6 460.44L538.17 465L533.6 469.56L529.03 465Z" fill="#1c9fdf"/>
<text x="557.3" y="470.6" class="lg">Bari 2-mg</text>
<path d="M522.8 492.7H544.5" stroke="#d62a22" stroke-width="1.3"/>
<rect x="529.45" y="488.55" width="8.3" height="8.3" fill="#d62a22"/>
<text x="557.3" y="498.3" class="lg">Bari 4-mg</text>
<text transform="translate(3.8,733.8) scale(0.97,1)" class="let" style="font-size:43.5px">C</text>
<text x="264.3" y="719.7" text-anchor="middle" font-family="Liberation Sans" font-weight="bold" font-size="19.2">BREEZE-AD7</text>
<path d="M54.1 745.25V959.25M45.1 950.75H477.37M45.1 950.75H54.1M45.1 921.59H54.1M45.1 892.42H54.1M45.1 863.26H54.1M45.1 834.09H54.1M45.1 804.93H54.1M45.1 775.77H54.1M45.1 746.6H54.1M80.47 950.75V959.25M106.84 950.75V959.25M133.21 950.75V959.25M159.58 950.75V959.25M185.95 950.75V959.25M212.32 950.75V959.25M238.69 950.75V959.25M265.06 950.75V959.25M291.43 950.75V959.25M317.8 950.75V959.25M344.17 950.75V959.25M370.54 950.75V959.25M396.91 950.75V959.25M423.28 950.75V959.25M449.65 950.75V959.25M476.02 950.75V959.25" stroke="#000" stroke-width="2.7" fill="none"/>
<text x="41.8" y="956.15" text-anchor="end" class="tk">0</text>
<text x="41.8" y="926.99" text-anchor="end" class="tk">10</text>
<text x="41.8" y="897.82" text-anchor="end" class="tk">20</text>
<text x="41.8" y="868.66" text-anchor="end" class="tk">30</text>
<text x="41.8" y="839.49" text-anchor="end" class="tk">40</text>
<text x="41.8" y="810.33" text-anchor="end" class="tk">50</text>
<text x="41.8" y="781.17" text-anchor="end" class="tk">60</text>
<text x="41.8" y="752" text-anchor="end" class="tk">70</text>
<text x="54.1" y="976.35" text-anchor="middle" class="tk">0</text>
<text x="80.47" y="976.35" text-anchor="middle" class="tk">1</text>
<text x="106.84" y="976.35" text-anchor="middle" class="tk">2</text>
<text x="133.21" y="976.35" text-anchor="middle" class="tk">3</text>
<text x="159.58" y="976.35" text-anchor="middle" class="tk">4</text>
<text x="185.95" y="976.35" text-anchor="middle" class="tk">5</text>
<text x="212.32" y="976.35" text-anchor="middle" class="tk">6</text>
<text x="238.69" y="976.35" text-anchor="middle" class="tk">7</text>
<text x="265.06" y="976.35" text-anchor="middle" class="tk">8</text>
<text x="291.43" y="976.35" text-anchor="middle" class="tk">9</text>
<text x="317.8" y="976.35" text-anchor="middle" class="tk">10</text>
<text x="344.17" y="976.35" text-anchor="middle" class="tk">11</text>
<text x="370.54" y="976.35" text-anchor="middle" class="tk">12</text>
<text x="396.91" y="976.35" text-anchor="middle" class="tk">13</text>
<text x="423.28" y="976.35" text-anchor="middle" class="tk">14</text>
<text x="449.65" y="976.35" text-anchor="middle" class="tk">15</text>
<text x="476.02" y="976.35" text-anchor="middle" class="tk">16</text>
<text x="264.2" y="1000.65" text-anchor="middle" font-family="Liberation Sans" font-weight="bold" font-size="17.2">Weeks</text>
<text transform="translate(17.2,847.1) rotate(-90)" text-anchor="middle" font-family="Liberation Sans" font-weight="bold" font-size="17.35">Response (%, 95%CI)</text>
<polyline points="80.47,916.92 106.84,842.55 133.21,809.01 159.58,805.22 185.95,804.93 212.32,801.72 238.69,809.01 265.06,805.22 291.43,809.01 317.8,805.22 344.17,815.43 370.54,822.14 396.91,821.85 423.28,825.64 449.65,825.64 476.02,808.43" fill="none" stroke="#d62a22" stroke-width="1.4"/>
<path d="M80.47 892.42V932.09M76.57 892.42H84.37M76.57 932.09H84.37M106.84 811.93V869.97M102.94 811.93H110.74M102.94 869.97H110.74M133.21 778.39V838.47M129.31 778.39H137.11M129.31 838.47H137.11M159.58 775.47V835.26M155.68 775.47H163.48M155.68 835.26H163.48M185.95 775.47V835.26M182.05 775.47H189.85M182.05 835.26H189.85M212.32 772.27V832.34M208.42 772.27H216.22M208.42 832.34H216.22M238.69 778.39V838.47M234.79 778.39H242.59M234.79 838.47H242.59M265.06 775.47V835.26M261.16 775.47H268.96M261.16 835.26H268.96M291.43 778.39V838.47M287.53 778.39H295.33M287.53 838.47H295.33M317.8 775.47V835.26M313.9 775.47H321.7M313.9 835.26H321.7M344.17 784.81V845.18M340.27 784.81H348.07M340.27 845.18H348.07M370.54 791.51V851.3M366.64 791.51H374.44M366.64 851.3H374.44M396.91 791.81V851.59M393.01 791.81H400.81M393.01 851.59H400.81M423.28 795.01V854.22M419.38 795.01H427.18M419.38 854.22H427.18M449.65 795.01V854.22M445.75 795.01H453.55M445.75 854.22H453.55M476.02 778.68V838.47M472.12 778.68H479.92M472.12 838.47H479.92" stroke="#d62a22" stroke-width="1.4" fill="none"/>
<rect x="76.27" y="912.72" width="8.4" height="8.4" fill="#d62a22"/>
<rect x="102.64" y="838.35" width="8.4" height="8.4" fill="#d62a22"/>
<rect x="129.01" y="804.81" width="8.4" height="8.4" fill="#d62a22"/>
<rect x="155.38" y="801.02" width="8.4" height="8.4" fill="#d62a22"/>
<rect x="181.75" y="800.73" width="8.4" height="8.4" fill="#d62a22"/>
<rect x="208.12" y="797.52" width="8.4" height="8.4" fill="#d62a22"/>
<rect x="234.49" y="804.81" width="8.4" height="8.4" fill="#d62a22"/>
<rect x="260.86" y="801.02" width="8.4" height="8.4" fill="#d62a22"/>
<rect x="287.23" y="804.81" width="8.4" height="8.4" fill="#d62a22"/>
<rect x="313.6" y="801.02" width="8.4" height="8.4" fill="#d62a22"/>
<rect x="339.97" y="811.23" width="8.4" height="8.4" fill="#d62a22"/>
<rect x="366.34" y="817.94" width="8.4" height="8.4" fill="#d62a22"/>
<rect x="392.71" y="817.65" width="8.4" height="8.4" fill="#d62a22"/>
<rect x="419.08" y="821.44" width="8.4" height="8.4" fill="#d62a22"/>
<rect x="445.45" y="821.44" width="8.4" height="8.4" fill="#d62a22"/>
<rect x="471.82" y="804.23" width="8.4" height="8.4" fill="#d62a22"/>
<polyline points="80.47,923.04 106.84,864.42 133.21,826.22 159.58,812.51 185.95,809.01 212.32,819.22 238.69,826.22 265.06,836.14 291.43,829.43 317.8,829.43 344.17,832.93 370.54,839.93 396.91,811.64 423.28,836.14 449.65,836.14 476.02,818.93" fill="none" stroke="#1c9fdf" stroke-width="1.4"/>
<path d="M80.47 899.42V936.17M76.57 899.42H84.37M76.57 936.17H84.37M106.84 833.22V889.51M102.94 833.22H110.74M102.94 889.51H110.74M133.21 795.01V855.38M129.31 795.01H137.11M129.31 855.38H137.11M159.58 781.31V841.97M155.68 781.31H163.48M155.68 841.97H163.48M185.95 778.39V839.05M182.05 778.39H189.85M182.05 839.05H189.85M212.32 788.31V848.68M208.42 788.31H216.22M208.42 848.68H216.22M238.69 795.01V855.38M234.79 795.01H242.59M234.79 855.38H242.59M265.06 805.22V865.01M261.16 805.22H268.96M261.16 865.01H268.96M291.43 798.51V858.01M287.53 798.51H295.33M287.53 858.01H295.33M317.8 798.51V858.01M313.9 798.51H321.7M313.9 858.01H321.7M344.17 801.72V861.8M340.27 801.72H348.07M340.27 861.8H348.07M370.54 808.72V868.22M366.64 808.72H374.44M366.64 868.22H374.44M396.91 781.31V842.26M393.01 781.31H400.81M393.01 842.26H400.81M423.28 805.22V865.01M419.38 805.22H427.18M419.38 865.01H427.18M449.65 805.22V865.01M445.75 805.22H453.55M445.75 865.01H453.55M476.02 787.43V848.68M472.12 787.43H479.92M472.12 848.68H479.92" stroke="#1c9fdf" stroke-width="1.4" fill="none"/>
<path d="M80.47 918.42L85.09 923.04L80.47 927.66L75.85 923.04Z" fill="#1c9fdf"/>
<path d="M106.84 859.8L111.46 864.42L106.84 869.04L102.22 864.42Z" fill="#1c9fdf"/>
<path d="M133.21 821.6L137.83 826.22L133.21 830.84L128.59 826.22Z" fill="#1c9fdf"/>
<path d="M159.58 807.89L164.2 812.51L159.58 817.13L154.96 812.51Z" fill="#1c9fdf"/>
<path d="M185.95 804.39L190.57 809.01L185.95 813.63L181.33 809.01Z" fill="#1c9fdf"/>
<path d="M212.32 814.6L216.94 819.22L212.32 823.84L207.7 819.22Z" fill="#1c9fdf"/>
<path d="M238.69 821.6L243.31 826.22L238.69 830.84L234.07 826.22Z" fill="#1c9fdf"/>
<path d="M265.06 831.52L269.68 836.14L265.06 840.76L260.44 836.14Z" fill="#1c9fdf"/>
<path d="M291.43 824.81L296.05 829.43L291.43 834.05L286.81 829.43Z" fill="#1c9fdf"/>
<path d="M317.8 824.81L322.42 829.43L317.8 834.05L313.18 829.43Z" fill="#1c9fdf"/>
<path d="M344.17 828.31L348.79 832.93L344.17 837.55L339.55 832.93Z" fill="#1c9fdf"/>
<path d="M370.54 835.31L375.16 839.93L370.54 844.55L365.92 839.93Z" fill="#1c9fdf"/>
<path d="M396.91 807.02L401.53 811.64L396.91 816.26L392.29 811.64Z" fill="#1c9fdf"/>
<path d="M423.28 831.52L427.9 836.14L423.28 840.76L418.66 836.14Z" fill="#1c9fdf"/>
<path d="M449.65 831.52L454.27 836.14L449.65 840.76L445.03 836.14Z" fill="#1c9fdf"/>
<path d="M476.02 814.31L480.64 818.93L476.02 823.55L471.4 818.93Z" fill="#1c9fdf"/>
<polyline points="80.47,941.42 106.84,907.3 133.21,888.63 159.58,897.96 185.95,888.63 212.32,892.13 238.69,885.42 265.06,892.13 291.43,886.01 317.8,876.38 344.17,876.38 370.54,873.17 396.91,879.3 423.28,873.47 449.65,885.42 476.02,876.38" fill="none" stroke="#8a7e78" stroke-width="1.4"/>
<path d="M80.47 930.34V947.54M76.57 930.34H84.37M76.57 947.54H84.37M106.84 882.21V923.92M102.94 882.21H110.74M102.94 923.92H110.74M133.21 861.8V909.34M129.31 861.8H137.11M129.31 909.34H137.11M159.58 872.3V917.21M155.68 872.3H163.48M155.68 917.21H163.48M185.95 861.8V909.34M182.05 861.8H189.85M182.05 909.34H189.85M212.32 865.59V911.96M208.42 865.59H216.22M208.42 911.96H216.22M238.69 857.72V907M234.79 857.72H242.59M234.79 907H242.59M265.06 865.01V911.96M261.16 865.01H268.96M261.16 911.96H268.96M291.43 858.3V907M287.53 858.3H295.33M287.53 907H295.33M317.8 848.09V898.84M313.9 848.09H321.7M313.9 898.84H321.7M344.17 848.09V898.84M340.27 848.09H348.07M340.27 898.84H348.07M370.54 845.18V896.21M366.64 845.18H374.44M366.64 896.21H374.44M396.91 851.59V901.46M393.01 851.59H400.81M393.01 901.46H400.81M423.28 845.47V896.5M419.38 845.47H427.18M419.38 896.5H427.18M449.65 858.01V906.71M445.75 858.01H453.55M445.75 906.71H453.55M476.02 848.68V898.55M472.12 848.68H479.92M472.12 898.55H479.92" stroke="#8a7e78" stroke-width="1.4" fill="none"/>
<circle cx="80.47" cy="941.42" r="4.2" fill="#8a7e78"/>
<circle cx="106.84" cy="907.3" r="4.2" fill="#8a7e78"/>
<circle cx="133.21" cy="888.63" r="4.2" fill="#8a7e78"/>
<circle cx="159.58" cy="897.96" r="4.2" fill="#8a7e78"/>
<circle cx="185.95" cy="888.63" r="4.2" fill="#8a7e78"/>
<circle cx="212.32" cy="892.13" r="4.2" fill="#8a7e78"/>
<circle cx="238.69" cy="885.42" r="4.2" fill="#8a7e78"/>
<circle cx="265.06" cy="892.13" r="4.2" fill="#8a7e78"/>
<circle cx="291.43" cy="886.01" r="4.2" fill="#8a7e78"/>
<circle cx="317.8" cy="876.38" r="4.2" fill="#8a7e78"/>
<circle cx="344.17" cy="876.38" r="4.2" fill="#8a7e78"/>
<circle cx="370.54" cy="873.17" r="4.2" fill="#8a7e78"/>
<circle cx="396.91" cy="879.3" r="4.2" fill="#8a7e78"/>
<circle cx="423.28" cy="873.47" r="4.2" fill="#8a7e78"/>
<circle cx="449.65" cy="885.42" r="4.2" fill="#8a7e78"/>
<circle cx="476.02" cy="876.38" r="4.2" fill="#8a7e78"/>
<path d="M80.47 886L80.47 883.25M80.47 886L83.09 885.15M80.47 886L82.09 888.22M80.47 886L78.85 888.22M80.47 886L77.85 885.15" stroke="#d62a22" stroke-width="1.2" stroke-linecap="butt" fill="none"/>
<path d="M99.34 806.6L99.34 803.85M99.34 806.6L101.96 805.75M99.34 806.6L100.96 808.82M99.34 806.6L97.72 808.82M99.34 806.6L96.72 805.75" stroke="#d62a22" stroke-width="1.2" stroke-linecap="butt" fill="none"/>
<path d="M106.84 806.6L106.84 803.85M106.84 806.6L109.46 805.75M106.84 806.6L108.46 808.82M106.84 806.6L105.22 808.82M106.84 806.6L104.22 805.75" stroke="#d62a22" stroke-width="1.2" stroke-linecap="butt" fill="none"/>
<path d="M114.34 806.6L114.34 803.85M114.34 806.6L116.96 805.75M114.34 806.6L115.96 808.82M114.34 806.6L112.72 808.82M114.34 806.6L111.72 805.75" stroke="#d62a22" stroke-width="1.2" stroke-linecap="butt" fill="none"/>
<path d="M106.84 797.9L106.84 795.15M106.84 797.9L109.46 797.05M106.84 797.9L108.46 800.12M106.84 797.9L105.22 800.12M106.84 797.9L104.22 797.05" stroke="#1c9fdf" stroke-width="1.2" stroke-linecap="butt" fill="none"/>
<path d="M125.71 772.7L125.71 769.95M125.71 772.7L128.33 771.85M125.71 772.7L127.33 774.92M125.71 772.7L124.09 774.92M125.71 772.7L123.09 771.85" stroke="#d62a22" stroke-width="1.2" stroke-linecap="butt" fill="none"/>
<path d="M133.21 772.7L133.21 769.95M133.21 772.7L135.83 771.85M133.21 772.7L134.83 774.92M133.21 772.7L131.59 774.92M133.21 772.7L130.59 771.85" stroke="#d62a22" stroke-width="1.2" stroke-linecap="butt" fill="none"/>
<path d="M140.71 772.7L140.71 769.95M140.71 772.7L143.33 771.85M140.71 772.7L142.33 774.92M140.71 772.7L139.09 774.92M140.71 772.7L138.09 771.85" stroke="#d62a22" stroke-width="1.2" stroke-linecap="butt" fill="none"/>
<path d="M125.71 765.5L125.71 762.75M125.71 765.5L128.33 764.65M125.71 765.5L127.33 767.72M125.71 765.5L124.09 767.72M125.71 765.5L123.09 764.65" stroke="#1c9fdf" stroke-width="1.2" stroke-linecap="butt" fill="none"/>
<path d="M133.21 765.5L133.21 762.75M133.21 765.5L135.83 764.65M133.21 765.5L134.83 767.72M133.21 765.5L131.59 767.72M133.21 765.5L130.59 764.65" stroke="#1c9fdf" stroke-width="1.2" stroke-linecap="butt" fill="none"/>
<path d="M140.71 765.5L140.71 762.75M140.71 765.5L143.33 764.65M140.71 765.5L142.33 767.72M140.71 765.5L139.09 767.72M140.71 765.5L138.09 764.65" stroke="#1c9fdf" stroke-width="1.2" stroke-linecap="butt" fill="none"/>
<path d="M152.08 769.6L152.08 766.85M152.08 769.6L154.7 768.75M152.08 769.6L153.7 771.82M152.08 769.6L150.46 771.82M152.08 769.6L149.46 768.75" stroke="#d62a22" stroke-width="1.2" stroke-linecap="butt" fill="none"/>
<path d="M159.58 769.6L159.58 766.85M159.58 769.6L162.2 768.75M159.58 769.6L161.2 771.82M159.58 769.6L157.96 771.82M159.58 769.6L156.96 768.75" stroke="#d62a22" stroke-width="1.2" stroke-linecap="butt" fill="none"/>
<path d="M167.08 769.6L167.08 766.85M167.08 769.6L169.7 768.75M167.08 769.6L168.7 771.82M167.08 769.6L165.46 771.82M167.08 769.6L164.46 768.75" stroke="#d62a22" stroke-width="1.2" stroke-linecap="butt" fill="none"/>
<path d="M152.08 761.5L152.08 758.75M152.08 761.5L154.7 760.65M152.08 761.5L153.7 763.72M152.08 761.5L150.46 763.72M152.08 761.5L149.46 760.65" stroke="#1c9fdf" stroke-width="1.2" stroke-linecap="butt" fill="none"/>
<path d="M159.58 761.5L159.58 758.75M159.58 761.5L162.2 760.65M159.58 761.5L161.2 763.72M159.58 761.5L157.96 763.72M159.58 761.5L156.96 760.65" stroke="#1c9fdf" stroke-width="1.2" stroke-linecap="butt" fill="none"/>
<path d="M167.08 761.5L167.08 758.75M167.08 761.5L169.7 760.65M167.08 761.5L168.7 763.72M167.08 761.5L165.46 763.72M167.08 761.5L164.46 760.65" stroke="#1c9fdf" stroke-width="1.2" stroke-linecap="butt" fill="none"/>
<path d="M178.45 768.6L178.45 765.85M178.45 768.6L181.07 767.75M178.45 768.6L180.07 770.82M178.45 768.6L176.83 770.82M178.45 768.6L175.83 767.75" stroke="#d62a22" stroke-width="1.2" stroke-linecap="butt" fill="none"/>
<path d="M185.95 768.6L185.95 765.85M185.95 768.6L188.57 767.75M185.95 768.6L187.57 770.82M185.95 768.6L184.33 770.82M185.95 768.6L183.33 767.75" stroke="#d62a22" stroke-width="1.2" stroke-linecap="butt" fill="none"/>
<path d="M193.45 768.6L193.45 765.85M193.45 768.6L196.07 767.75M193.45 768.6L195.07 770.82M193.45 768.6L191.83 770.82M193.45 768.6L190.83 767.75" stroke="#d62a22" stroke-width="1.2" stroke-linecap="butt" fill="none"/>
<path d="M178.45 761.5L178.45 758.75M178.45 761.5L181.07 760.65M178.45 761.5L180.07 763.72M178.45 761.5L176.83 763.72M178.45 761.5L175.83 760.65" stroke="#1c9fdf" stroke-width="1.2" stroke-linecap="butt" fill="none"/>
<path d="M185.95 761.5L185.95 758.75M185.95 761.5L188.57 760.65M185.95 761.5L187.57 763.72M185.95 761.5L184.33 763.72M185.95 761.5L183.33 760.65" stroke="#1c9fdf" stroke-width="1.2" stroke-linecap="butt" fill="none"/>
<path d="M193.45 761.5L193.45 758.75M193.45 761.5L196.07 760.65M193.45 761.5L195.07 763.72M193.45 761.5L191.83 763.72M193.45 761.5L190.83 760.65" stroke="#1c9fdf" stroke-width="1.2" stroke-linecap="butt" fill="none"/>
<path d="M204.82 766.6L204.82 763.85M204.82 766.6L207.44 765.75M204.82 766.6L206.44 768.82M204.82 766.6L203.2 768.82M204.82 766.6L202.2 765.75" stroke="#d62a22" stroke-width="1.2" stroke-linecap="butt" fill="none"/>
<path d="M212.32 766.6L212.32 763.85M212.32 766.6L214.94 765.75M212.32 766.6L213.94 768.82M212.32 766.6L210.7 768.82M212.32 766.6L209.7 765.75" stroke="#d62a22" stroke-width="1.2" stroke-linecap="butt" fill="none"/>
<path d="M219.82 766.6L219.82 763.85M219.82 766.6L222.44 765.75M219.82 766.6L221.44 768.82M219.82 766.6L218.2 768.82M219.82 766.6L217.2 765.75" stroke="#d62a22" stroke-width="1.2" stroke-linecap="butt" fill="none"/>
<path d="M204.82 759L204.82 756.25M204.82 759L207.44 758.15M204.82 759L206.44 761.22M204.82 759L203.2 761.22M204.82 759L202.2 758.15" stroke="#1c9fdf" stroke-width="1.2" stroke-linecap="butt" fill="none"/>
<path d="M212.32 759L212.32 756.25M212.32 759L214.94 758.15M212.32 759L213.94 761.22M212.32 759L210.7 761.22M212.32 759L209.7 758.15" stroke="#1c9fdf" stroke-width="1.2" stroke-linecap="butt" fill="none"/>
<path d="M219.82 759L219.82 756.25M219.82 759L222.44 758.15M219.82 759L221.44 761.22M219.82 759L218.2 761.22M219.82 759L217.2 758.15" stroke="#1c9fdf" stroke-width="1.2" stroke-linecap="butt" fill="none"/>
<path d="M231.19 772.3L231.19 769.55M231.19 772.3L233.81 771.45M231.19 772.3L232.81 774.52M231.19 772.3L229.57 774.52M231.19 772.3L228.57 771.45" stroke="#d62a22" stroke-width="1.2" stroke-linecap="butt" fill="none"/>
<path d="M238.69 772.3L238.69 769.55M238.69 772.3L241.31 771.45M238.69 772.3L240.31 774.52M238.69 772.3L237.07 774.52M238.69 772.3L236.07 771.45" stroke="#d62a22" stroke-width="1.2" stroke-linecap="butt" fill="none"/>
<path d="M246.19 772.3L246.19 769.55M246.19 772.3L248.81 771.45M246.19 772.3L247.81 774.52M246.19 772.3L244.57 774.52M246.19 772.3L243.57 771.45" stroke="#d62a22" stroke-width="1.2" stroke-linecap="butt" fill="none"/>
<path d="M234.94 764.1L234.94 761.35M234.94 764.1L237.56 763.25M234.94 764.1L236.56 766.32M234.94 764.1L233.32 766.32M234.94 764.1L232.32 763.25" stroke="#1c9fdf" stroke-width="1.2" stroke-linecap="butt" fill="none"/>
<path d="M242.44 764.1L242.44 761.35M242.44 764.1L245.06 763.25M242.44 764.1L244.06 766.32M242.44 764.1L240.82 766.32M242.44 764.1L239.82 763.25" stroke="#1c9fdf" stroke-width="1.2" stroke-linecap="butt" fill="none"/>
<path d="M257.56 770.2L257.56 767.45M257.56 770.2L260.18 769.35M257.56 770.2L259.18 772.42M257.56 770.2L255.94 772.42M257.56 770.2L254.94 769.35" stroke="#d62a22" stroke-width="1.2" stroke-linecap="butt" fill="none"/>
<path d="M265.06 770.2L265.06 767.45M265.06 770.2L267.68 769.35M265.06 770.2L266.68 772.42M265.06 770.2L263.44 772.42M265.06 770.2L262.44 769.35" stroke="#d62a22" stroke-width="1.2" stroke-linecap="butt" fill="none"/>
<path d="M272.56 770.2L272.56 767.45M272.56 770.2L275.18 769.35M272.56 770.2L274.18 772.42M272.56 770.2L270.94 772.42M272.56 770.2L269.94 769.35" stroke="#d62a22" stroke-width="1.2" stroke-linecap="butt" fill="none"/>
<path d="M261.31 761.5L261.31 758.75M261.31 761.5L263.93 760.65M261.31 761.5L262.93 763.72M261.31 761.5L259.69 763.72M261.31 761.5L258.69 760.65" stroke="#1c9fdf" stroke-width="1.2" stroke-linecap="butt" fill="none"/>
<path d="M268.81 761.5L268.81 758.75M268.81 761.5L271.43 760.65M268.81 761.5L270.43 763.72M268.81 761.5L267.19 763.72M268.81 761.5L266.19 760.65" stroke="#1c9fdf" stroke-width="1.2" stroke-linecap="butt" fill="none"/>
<path d="M283.93 772.7L283.93 769.95M283.93 772.7L286.55 771.85M283.93 772.7L285.55 774.92M283.93 772.7L282.31 774.92M283.93 772.7L281.31 771.85" stroke="#d62a22" stroke-width="1.2" stroke-linecap="butt" fill="none"/>
<path d="M291.43 772.7L291.43 769.95M291.43 772.7L294.05 771.85M291.43 772.7L293.05 774.92M291.43 772.7L289.81 774.92M291.43 772.7L288.81 771.85" stroke="#d62a22" stroke-width="1.2" stroke-linecap="butt" fill="none"/>
<path d="M298.93 772.7L298.93 769.95M298.93 772.7L301.55 771.85M298.93 772.7L300.55 774.92M298.93 772.7L297.31 774.92M298.93 772.7L296.31 771.85" stroke="#d62a22" stroke-width="1.2" stroke-linecap="butt" fill="none"/>
<path d="M287.68 764.5L287.68 761.75M287.68 764.5L290.3 763.65M287.68 764.5L289.3 766.72M287.68 764.5L286.06 766.72M287.68 764.5L285.06 763.65" stroke="#1c9fdf" stroke-width="1.2" stroke-linecap="butt" fill="none"/>
<path d="M295.18 764.5L295.18 761.75M295.18 764.5L297.8 763.65M295.18 764.5L296.8 766.72M295.18 764.5L293.56 766.72M295.18 764.5L292.56 763.65" stroke="#1c9fdf" stroke-width="1.2" stroke-linecap="butt" fill="none"/>
<path d="M310.3 770.7L310.3 767.95M310.3 770.7L312.92 769.85M310.3 770.7L311.92 772.92M310.3 770.7L308.68 772.92M310.3 770.7L307.68 769.85" stroke="#d62a22" stroke-width="1.2" stroke-linecap="butt" fill="none"/>
<path d="M317.8 770.7L317.8 767.95M317.8 770.7L320.42 769.85M317.8 770.7L319.42 772.92M317.8 770.7L316.18 772.92M317.8 770.7L315.18 769.85" stroke="#d62a22" stroke-width="1.2" stroke-linecap="butt" fill="none"/>
<path d="M325.3 770.7L325.3 767.95M325.3 770.7L327.92 769.85M325.3 770.7L326.92 772.92M325.3 770.7L323.68 772.92M325.3 770.7L322.68 769.85" stroke="#d62a22" stroke-width="1.2" stroke-linecap="butt" fill="none"/>
<path d="M317.8 762.9L317.8 760.15M317.8 762.9L320.42 762.05M317.8 762.9L319.42 765.12M317.8 762.9L316.18 765.12M317.8 762.9L315.18 762.05" stroke="#1c9fdf" stroke-width="1.2" stroke-linecap="butt" fill="none"/>
<path d="M336.67 779.9L336.67 777.15M336.67 779.9L339.29 779.05M336.67 779.9L338.29 782.12M336.67 779.9L335.05 782.12M336.67 779.9L334.05 779.05" stroke="#d62a22" stroke-width="1.2" stroke-linecap="butt" fill="none"/>
<path d="M344.17 779.9L344.17 777.15M344.17 779.9L346.79 779.05M344.17 779.9L345.79 782.12M344.17 779.9L342.55 782.12M344.17 779.9L341.55 779.05" stroke="#d62a22" stroke-width="1.2" stroke-linecap="butt" fill="none"/>
<path d="M351.67 779.9L351.67 777.15M351.67 779.9L354.29 779.05M351.67 779.9L353.29 782.12M351.67 779.9L350.05 782.12M351.67 779.9L349.05 779.05" stroke="#d62a22" stroke-width="1.2" stroke-linecap="butt" fill="none"/>
<path d="M344.17 772.3L344.17 769.55M344.17 772.3L346.79 771.45M344.17 772.3L345.79 774.52M344.17 772.3L342.55 774.52M344.17 772.3L341.55 771.45" stroke="#1c9fdf" stroke-width="1.2" stroke-linecap="butt" fill="none"/>
<path d="M366.79 786L366.79 783.25M366.79 786L369.41 785.15M366.79 786L368.41 788.22M366.79 786L365.17 788.22M366.79 786L364.17 785.15" stroke="#d62a22" stroke-width="1.2" stroke-linecap="butt" fill="none"/>
<path d="M374.29 786L374.29 783.25M374.29 786L376.91 785.15M374.29 786L375.91 788.22M374.29 786L372.67 788.22M374.29 786L371.67 785.15" stroke="#d62a22" stroke-width="1.2" stroke-linecap="butt" fill="none"/>
<path d="M393.16 775.5L393.16 772.75M393.16 775.5L395.78 774.65M393.16 775.5L394.78 777.72M393.16 775.5L391.54 777.72M393.16 775.5L390.54 774.65" stroke="#d62a22" stroke-width="1.2" stroke-linecap="butt" fill="none"/>
<path d="M400.66 775.5L400.66 772.75M400.66 775.5L403.28 774.65M400.66 775.5L402.28 777.72M400.66 775.5L399.04 777.72M400.66 775.5L398.04 774.65" stroke="#d62a22" stroke-width="1.2" stroke-linecap="butt" fill="none"/>
<path d="M389.41 766.9L389.41 764.15M389.41 766.9L392.03 766.05M389.41 766.9L391.03 769.12M389.41 766.9L387.79 769.12M389.41 766.9L386.79 766.05" stroke="#1c9fdf" stroke-width="1.2" stroke-linecap="butt" fill="none"/>
<path d="M396.91 766.9L396.91 764.15M396.91 766.9L399.53 766.05M396.91 766.9L398.53 769.12M396.91 766.9L395.29 769.12M396.91 766.9L394.29 766.05" stroke="#1c9fdf" stroke-width="1.2" stroke-linecap="butt" fill="none"/>
<path d="M404.41 766.9L404.41 764.15M404.41 766.9L407.03 766.05M404.41 766.9L406.03 769.12M404.41 766.9L402.79 769.12M404.41 766.9L401.79 766.05" stroke="#1c9fdf" stroke-width="1.2" stroke-linecap="butt" fill="none"/>
<path d="M419.53 789.3L419.53 786.55M419.53 789.3L422.15 788.45M419.53 789.3L421.15 791.52M419.53 789.3L417.91 791.52M419.53 789.3L416.91 788.45" stroke="#d62a22" stroke-width="1.2" stroke-linecap="butt" fill="none"/>
<path d="M427.03 789.3L427.03 786.55M427.03 789.3L429.65 788.45M427.03 789.3L428.65 791.52M427.03 789.3L425.41 791.52M427.03 789.3L424.41 788.45" stroke="#d62a22" stroke-width="1.2" stroke-linecap="butt" fill="none"/>
<path d="M423.28 782L423.28 779.25M423.28 782L425.9 781.15M423.28 782L424.9 784.22M423.28 782L421.66 784.22M423.28 782L420.66 781.15" stroke="#1c9fdf" stroke-width="1.2" stroke-linecap="butt" fill="none"/>
<path d="M442.15 789.9L442.15 787.15M442.15 789.9L444.77 789.05M442.15 789.9L443.77 792.12M442.15 789.9L440.53 792.12M442.15 789.9L439.53 789.05" stroke="#d62a22" stroke-width="1.2" stroke-linecap="butt" fill="none"/>
<path d="M449.65 789.9L449.65 787.15M449.65 789.9L452.27 789.05M449.65 789.9L451.27 792.12M449.65 789.9L448.03 792.12M449.65 789.9L447.03 789.05" stroke="#d62a22" stroke-width="1.2" stroke-linecap="butt" fill="none"/>
<path d="M457.15 789.9L457.15 787.15M457.15 789.9L459.77 789.05M457.15 789.9L458.77 792.12M457.15 789.9L455.53 792.12M457.15 789.9L454.53 789.05" stroke="#d62a22" stroke-width="1.2" stroke-linecap="butt" fill="none"/>
<path d="M445.9 781.2L445.9 778.45M445.9 781.2L448.52 780.35M445.9 781.2L447.52 783.42M445.9 781.2L444.28 783.42M445.9 781.2L443.28 780.35" stroke="#1c9fdf" stroke-width="1.2" stroke-linecap="butt" fill="none"/>
<path d="M453.4 781.2L453.4 778.45M453.4 781.2L456.02 780.35M453.4 781.2L455.02 783.42M453.4 781.2L451.78 783.42M453.4 781.2L450.78 780.35" stroke="#1c9fdf" stroke-width="1.2" stroke-linecap="butt" fill="none"/>
<path d="M468.52 773.5L468.52 770.75M468.52 773.5L471.14 772.65M468.52 773.5L470.14 775.72M468.52 773.5L466.9 775.72M468.52 773.5L465.9 772.65" stroke="#d62a22" stroke-width="1.2" stroke-linecap="butt" fill="none"/>
<path d="M476.02 773.5L476.02 770.75M476.02 773.5L478.64 772.65M476.02 773.5L477.64 775.72M476.02 773.5L474.4 775.72M476.02 773.5L473.4 772.65" stroke="#d62a22" stroke-width="1.2" stroke-linecap="butt" fill="none"/>
<path d="M483.52 773.5L483.52 770.75M483.52 773.5L486.14 772.65M483.52 773.5L485.14 775.72M483.52 773.5L481.9 775.72M483.52 773.5L480.9 772.65" stroke="#d62a22" stroke-width="1.2" stroke-linecap="butt" fill="none"/>
<path d="M472.27 766.3L472.27 763.55M472.27 766.3L474.89 765.45M472.27 766.3L473.89 768.52M472.27 766.3L470.65 768.52M472.27 766.3L469.65 765.45" stroke="#1c9fdf" stroke-width="1.2" stroke-linecap="butt" fill="none"/>
<path d="M479.77 766.3L479.77 763.55M479.77 766.3L482.39 765.45M479.77 766.3L481.39 768.52M479.77 766.3L478.15 768.52M479.77 766.3L477.15 765.45" stroke="#1c9fdf" stroke-width="1.2" stroke-linecap="butt" fill="none"/>
<text x="87.8" y="857.4" text-anchor="end" class="nl" fill="#d62a22">11.6</text>
<text x="87.8" y="869.3" text-anchor="end" class="nl" fill="#1c9fdf">9.5</text>
<text x="87.8" y="881.9" text-anchor="end" class="nl" fill="#8a7e78">3.2</text>
<text x="483.6" y="813.9" class="nl" fill="#d62a22">48.8</text>
<text x="483.6" y="826.4" class="nl" fill="#1c9fdf">45.2</text>
<text x="483.6" y="881.8" class="nl" fill="#8a7e78">25.5</text>
<path d="M522.8 760.2H544.5" stroke="#8a7e78" stroke-width="1.3"/>
<circle cx="533.6" cy="760.2" r="4.15" fill="#8a7e78"/>
<text x="557.3" y="765.8" class="lg">PBO + TCS</text>
<path d="M522.8 787.9H544.5" stroke="#1c9fdf" stroke-width="1.3"/>
<path d="M533.6 783.33L538.17 787.9L533.6 792.47L529.03 787.9Z" fill="#1c9fdf"/>
<text x="557.3" y="793.5" class="lg">Bari 2-mg + TCS</text>
<path d="M522.8 815.6H544.5" stroke="#d62a22" stroke-width="1.3"/>
<rect x="529.45" y="811.45" width="8.3" height="8.3" fill="#d62a22"/>
<text x="557.3" y="821.2" class="lg">Bari 4-mg + TCS</text>
</svg>
</body></html>
